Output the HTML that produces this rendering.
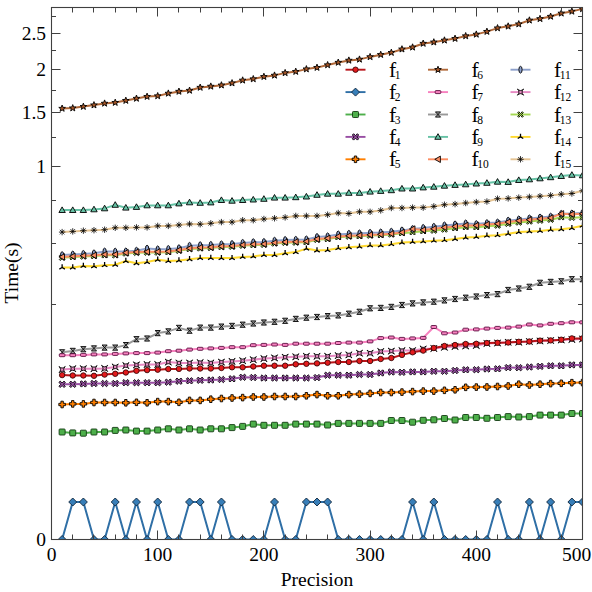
<!DOCTYPE html><html><head><meta charset="utf-8"><style>html,body{margin:0;padding:0;background:#fff;width:592px;height:592px;overflow:hidden}svg{display:block}svg text{font-family:"Liberation Serif",serif;fill:#000}</style></head><body>
<svg width="592" height="592" viewBox="0 0 592 592" font-family="Liberation Serif">
<rect width="592" height="592" fill="#fff"/>
<defs><clipPath id="pc"><rect x="51.5" y="7.5" width="531.0" height="532.0"/></clipPath></defs>
<g clip-path="url(#pc)">
<polyline points="62.12,232.10 72.74,231.40 83.36,230.70 93.98,230.20 104.60,229.70 115.22,227.80 125.84,227.80 136.46,227.40 147.08,227.40 157.70,225.90 168.32,225.90 178.94,225.00 189.56,224.00 200.18,224.20 210.80,223.30 221.42,222.10 232.04,222.10 242.66,220.20 253.28,220.20 263.90,219.00 274.52,218.30 285.14,217.40 295.76,215.90 306.38,215.90 317.00,215.90 327.62,214.70 338.24,213.00 348.86,213.50 359.48,211.80 370.10,211.80 380.72,210.40 391.34,208.00 401.96,208.00 412.58,207.60 423.20,207.60 433.82,206.40 444.44,204.70 455.06,204.10 465.68,203.00 476.30,202.10 486.92,201.50 497.54,198.70 508.16,198.40 518.78,197.60 529.40,196.90 540.02,196.20 550.64,195.40 561.26,194.20 571.88,193.50 582.50,190.80" fill="none" stroke="#e5c494" stroke-width="2.0" stroke-linejoin="round"/>
<path d="M58.92 232.10L65.32 232.10M59.86 229.84L64.38 234.36M62.12 228.90L62.12 235.30M64.38 229.84L59.86 234.36" fill="none" stroke="#000" stroke-width="0.8"/>
<path d="M69.54 231.40L75.94 231.40M70.48 229.14L75.00 233.66M72.74 228.20L72.74 234.60M75.00 229.14L70.48 233.66" fill="none" stroke="#000" stroke-width="0.8"/>
<path d="M80.16 230.70L86.56 230.70M81.10 228.44L85.62 232.96M83.36 227.50L83.36 233.90M85.62 228.44L81.10 232.96" fill="none" stroke="#000" stroke-width="0.8"/>
<path d="M90.78 230.20L97.18 230.20M91.72 227.94L96.24 232.46M93.98 227.00L93.98 233.40M96.24 227.94L91.72 232.46" fill="none" stroke="#000" stroke-width="0.8"/>
<path d="M101.40 229.70L107.80 229.70M102.34 227.44L106.86 231.96M104.60 226.50L104.60 232.90M106.86 227.44L102.34 231.96" fill="none" stroke="#000" stroke-width="0.8"/>
<path d="M112.02 227.80L118.42 227.80M112.96 225.54L117.48 230.06M115.22 224.60L115.22 231.00M117.48 225.54L112.96 230.06" fill="none" stroke="#000" stroke-width="0.8"/>
<path d="M122.64 227.80L129.04 227.80M123.58 225.54L128.10 230.06M125.84 224.60L125.84 231.00M128.10 225.54L123.58 230.06" fill="none" stroke="#000" stroke-width="0.8"/>
<path d="M133.26 227.40L139.66 227.40M134.20 225.14L138.72 229.66M136.46 224.20L136.46 230.60M138.72 225.14L134.20 229.66" fill="none" stroke="#000" stroke-width="0.8"/>
<path d="M143.88 227.40L150.28 227.40M144.82 225.14L149.34 229.66M147.08 224.20L147.08 230.60M149.34 225.14L144.82 229.66" fill="none" stroke="#000" stroke-width="0.8"/>
<path d="M154.50 225.90L160.90 225.90M155.44 223.64L159.96 228.16M157.70 222.70L157.70 229.10M159.96 223.64L155.44 228.16" fill="none" stroke="#000" stroke-width="0.8"/>
<path d="M165.12 225.90L171.52 225.90M166.06 223.64L170.58 228.16M168.32 222.70L168.32 229.10M170.58 223.64L166.06 228.16" fill="none" stroke="#000" stroke-width="0.8"/>
<path d="M175.74 225.00L182.14 225.00M176.68 222.74L181.20 227.26M178.94 221.80L178.94 228.20M181.20 222.74L176.68 227.26" fill="none" stroke="#000" stroke-width="0.8"/>
<path d="M186.36 224.00L192.76 224.00M187.30 221.74L191.82 226.26M189.56 220.80L189.56 227.20M191.82 221.74L187.30 226.26" fill="none" stroke="#000" stroke-width="0.8"/>
<path d="M196.98 224.20L203.38 224.20M197.92 221.94L202.44 226.46M200.18 221.00L200.18 227.40M202.44 221.94L197.92 226.46" fill="none" stroke="#000" stroke-width="0.8"/>
<path d="M207.60 223.30L214.00 223.30M208.54 221.04L213.06 225.56M210.80 220.10L210.80 226.50M213.06 221.04L208.54 225.56" fill="none" stroke="#000" stroke-width="0.8"/>
<path d="M218.22 222.10L224.62 222.10M219.16 219.84L223.68 224.36M221.42 218.90L221.42 225.30M223.68 219.84L219.16 224.36" fill="none" stroke="#000" stroke-width="0.8"/>
<path d="M228.84 222.10L235.24 222.10M229.78 219.84L234.30 224.36M232.04 218.90L232.04 225.30M234.30 219.84L229.78 224.36" fill="none" stroke="#000" stroke-width="0.8"/>
<path d="M239.46 220.20L245.86 220.20M240.40 217.94L244.92 222.46M242.66 217.00L242.66 223.40M244.92 217.94L240.40 222.46" fill="none" stroke="#000" stroke-width="0.8"/>
<path d="M250.08 220.20L256.48 220.20M251.02 217.94L255.54 222.46M253.28 217.00L253.28 223.40M255.54 217.94L251.02 222.46" fill="none" stroke="#000" stroke-width="0.8"/>
<path d="M260.70 219.00L267.10 219.00M261.64 216.74L266.16 221.26M263.90 215.80L263.90 222.20M266.16 216.74L261.64 221.26" fill="none" stroke="#000" stroke-width="0.8"/>
<path d="M271.32 218.30L277.72 218.30M272.26 216.04L276.78 220.56M274.52 215.10L274.52 221.50M276.78 216.04L272.26 220.56" fill="none" stroke="#000" stroke-width="0.8"/>
<path d="M281.94 217.40L288.34 217.40M282.88 215.14L287.40 219.66M285.14 214.20L285.14 220.60M287.40 215.14L282.88 219.66" fill="none" stroke="#000" stroke-width="0.8"/>
<path d="M292.56 215.90L298.96 215.90M293.50 213.64L298.02 218.16M295.76 212.70L295.76 219.10M298.02 213.64L293.50 218.16" fill="none" stroke="#000" stroke-width="0.8"/>
<path d="M303.18 215.90L309.58 215.90M304.12 213.64L308.64 218.16M306.38 212.70L306.38 219.10M308.64 213.64L304.12 218.16" fill="none" stroke="#000" stroke-width="0.8"/>
<path d="M313.80 215.90L320.20 215.90M314.74 213.64L319.26 218.16M317.00 212.70L317.00 219.10M319.26 213.64L314.74 218.16" fill="none" stroke="#000" stroke-width="0.8"/>
<path d="M324.42 214.70L330.82 214.70M325.36 212.44L329.88 216.96M327.62 211.50L327.62 217.90M329.88 212.44L325.36 216.96" fill="none" stroke="#000" stroke-width="0.8"/>
<path d="M335.04 213.00L341.44 213.00M335.98 210.74L340.50 215.26M338.24 209.80L338.24 216.20M340.50 210.74L335.98 215.26" fill="none" stroke="#000" stroke-width="0.8"/>
<path d="M345.66 213.50L352.06 213.50M346.60 211.24L351.12 215.76M348.86 210.30L348.86 216.70M351.12 211.24L346.60 215.76" fill="none" stroke="#000" stroke-width="0.8"/>
<path d="M356.28 211.80L362.68 211.80M357.22 209.54L361.74 214.06M359.48 208.60L359.48 215.00M361.74 209.54L357.22 214.06" fill="none" stroke="#000" stroke-width="0.8"/>
<path d="M366.90 211.80L373.30 211.80M367.84 209.54L372.36 214.06M370.10 208.60L370.10 215.00M372.36 209.54L367.84 214.06" fill="none" stroke="#000" stroke-width="0.8"/>
<path d="M377.52 210.40L383.92 210.40M378.46 208.14L382.98 212.66M380.72 207.20L380.72 213.60M382.98 208.14L378.46 212.66" fill="none" stroke="#000" stroke-width="0.8"/>
<path d="M388.14 208.00L394.54 208.00M389.08 205.74L393.60 210.26M391.34 204.80L391.34 211.20M393.60 205.74L389.08 210.26" fill="none" stroke="#000" stroke-width="0.8"/>
<path d="M398.76 208.00L405.16 208.00M399.70 205.74L404.22 210.26M401.96 204.80L401.96 211.20M404.22 205.74L399.70 210.26" fill="none" stroke="#000" stroke-width="0.8"/>
<path d="M409.38 207.60L415.78 207.60M410.32 205.34L414.84 209.86M412.58 204.40L412.58 210.80M414.84 205.34L410.32 209.86" fill="none" stroke="#000" stroke-width="0.8"/>
<path d="M420.00 207.60L426.40 207.60M420.94 205.34L425.46 209.86M423.20 204.40L423.20 210.80M425.46 205.34L420.94 209.86" fill="none" stroke="#000" stroke-width="0.8"/>
<path d="M430.62 206.40L437.02 206.40M431.56 204.14L436.08 208.66M433.82 203.20L433.82 209.60M436.08 204.14L431.56 208.66" fill="none" stroke="#000" stroke-width="0.8"/>
<path d="M441.24 204.70L447.64 204.70M442.18 202.44L446.70 206.96M444.44 201.50L444.44 207.90M446.70 202.44L442.18 206.96" fill="none" stroke="#000" stroke-width="0.8"/>
<path d="M451.86 204.10L458.26 204.10M452.80 201.84L457.32 206.36M455.06 200.90L455.06 207.30M457.32 201.84L452.80 206.36" fill="none" stroke="#000" stroke-width="0.8"/>
<path d="M462.48 203.00L468.88 203.00M463.42 200.74L467.94 205.26M465.68 199.80L465.68 206.20M467.94 200.74L463.42 205.26" fill="none" stroke="#000" stroke-width="0.8"/>
<path d="M473.10 202.10L479.50 202.10M474.04 199.84L478.56 204.36M476.30 198.90L476.30 205.30M478.56 199.84L474.04 204.36" fill="none" stroke="#000" stroke-width="0.8"/>
<path d="M483.72 201.50L490.12 201.50M484.66 199.24L489.18 203.76M486.92 198.30L486.92 204.70M489.18 199.24L484.66 203.76" fill="none" stroke="#000" stroke-width="0.8"/>
<path d="M494.34 198.70L500.74 198.70M495.28 196.44L499.80 200.96M497.54 195.50L497.54 201.90M499.80 196.44L495.28 200.96" fill="none" stroke="#000" stroke-width="0.8"/>
<path d="M504.96 198.40L511.36 198.40M505.90 196.14L510.42 200.66M508.16 195.20L508.16 201.60M510.42 196.14L505.90 200.66" fill="none" stroke="#000" stroke-width="0.8"/>
<path d="M515.58 197.60L521.98 197.60M516.52 195.34L521.04 199.86M518.78 194.40L518.78 200.80M521.04 195.34L516.52 199.86" fill="none" stroke="#000" stroke-width="0.8"/>
<path d="M526.20 196.90L532.60 196.90M527.14 194.64L531.66 199.16M529.40 193.70L529.40 200.10M531.66 194.64L527.14 199.16" fill="none" stroke="#000" stroke-width="0.8"/>
<path d="M536.82 196.20L543.22 196.20M537.76 193.94L542.28 198.46M540.02 193.00L540.02 199.40M542.28 193.94L537.76 198.46" fill="none" stroke="#000" stroke-width="0.8"/>
<path d="M547.44 195.40L553.84 195.40M548.38 193.14L552.90 197.66M550.64 192.20L550.64 198.60M552.90 193.14L548.38 197.66" fill="none" stroke="#000" stroke-width="0.8"/>
<path d="M558.06 194.20L564.46 194.20M559.00 191.94L563.52 196.46M561.26 191.00L561.26 197.40M563.52 191.94L559.00 196.46" fill="none" stroke="#000" stroke-width="0.8"/>
<path d="M568.68 193.50L575.08 193.50M569.62 191.24L574.14 195.76M571.88 190.30L571.88 196.70M574.14 191.24L569.62 195.76" fill="none" stroke="#000" stroke-width="0.8"/>
<path d="M579.30 190.80L585.70 190.80M580.24 188.54L584.76 193.06M582.50 187.60L582.50 194.00M584.76 188.54L580.24 193.06" fill="none" stroke="#000" stroke-width="0.8"/>
<polyline points="62.12,267.50 72.74,267.50 83.36,265.90 93.98,266.30 104.60,265.20 115.22,264.80 125.84,261.00 136.46,263.30 147.08,262.10 157.70,259.80 168.32,261.00 178.94,260.50 189.56,259.30 200.18,258.00 210.80,258.00 221.42,258.10 232.04,258.10 242.66,256.90 253.28,256.40 263.90,255.00 274.52,255.00 285.14,253.30 295.76,252.10 306.38,248.60 317.00,250.50 327.62,250.10 338.24,248.20 348.86,247.30 359.48,246.60 370.10,245.40 380.72,245.40 391.34,244.20 401.96,242.60 412.58,241.90 423.20,241.40 433.82,240.70 444.44,240.20 455.06,239.00 465.68,237.60 476.30,236.90 486.92,235.70 497.54,235.20 508.16,233.80 518.78,232.10 529.40,231.40 540.02,230.90 550.64,229.80 561.26,229.30 571.88,228.10 582.50,225.70" fill="none" stroke="#ffd92f" stroke-width="2.0" stroke-linejoin="round"/>
<path d="M62.12 267.50L62.12 264.30M62.12 267.50L64.90 269.10M62.12 267.50L59.34 269.10" fill="none" stroke="#000" stroke-width="1.3"/>
<path d="M72.74 267.50L72.74 264.30M72.74 267.50L75.52 269.10M72.74 267.50L69.96 269.10" fill="none" stroke="#000" stroke-width="1.3"/>
<path d="M83.36 265.90L83.36 262.70M83.36 265.90L86.14 267.50M83.36 265.90L80.58 267.50" fill="none" stroke="#000" stroke-width="1.3"/>
<path d="M93.98 266.30L93.98 263.10M93.98 266.30L96.76 267.90M93.98 266.30L91.20 267.90" fill="none" stroke="#000" stroke-width="1.3"/>
<path d="M104.60 265.20L104.60 262.00M104.60 265.20L107.38 266.80M104.60 265.20L101.82 266.80" fill="none" stroke="#000" stroke-width="1.3"/>
<path d="M115.22 264.80L115.22 261.60M115.22 264.80L118.00 266.40M115.22 264.80L112.44 266.40" fill="none" stroke="#000" stroke-width="1.3"/>
<path d="M125.84 261.00L125.84 257.80M125.84 261.00L128.62 262.60M125.84 261.00L123.06 262.60" fill="none" stroke="#000" stroke-width="1.3"/>
<path d="M136.46 263.30L136.46 260.10M136.46 263.30L139.24 264.90M136.46 263.30L133.68 264.90" fill="none" stroke="#000" stroke-width="1.3"/>
<path d="M147.08 262.10L147.08 258.90M147.08 262.10L149.86 263.70M147.08 262.10L144.30 263.70" fill="none" stroke="#000" stroke-width="1.3"/>
<path d="M157.70 259.80L157.70 256.60M157.70 259.80L160.48 261.40M157.70 259.80L154.92 261.40" fill="none" stroke="#000" stroke-width="1.3"/>
<path d="M168.32 261.00L168.32 257.80M168.32 261.00L171.10 262.60M168.32 261.00L165.54 262.60" fill="none" stroke="#000" stroke-width="1.3"/>
<path d="M178.94 260.50L178.94 257.30M178.94 260.50L181.72 262.10M178.94 260.50L176.16 262.10" fill="none" stroke="#000" stroke-width="1.3"/>
<path d="M189.56 259.30L189.56 256.10M189.56 259.30L192.34 260.90M189.56 259.30L186.78 260.90" fill="none" stroke="#000" stroke-width="1.3"/>
<path d="M200.18 258.00L200.18 254.80M200.18 258.00L202.96 259.60M200.18 258.00L197.40 259.60" fill="none" stroke="#000" stroke-width="1.3"/>
<path d="M210.80 258.00L210.80 254.80M210.80 258.00L213.58 259.60M210.80 258.00L208.02 259.60" fill="none" stroke="#000" stroke-width="1.3"/>
<path d="M221.42 258.10L221.42 254.90M221.42 258.10L224.20 259.70M221.42 258.10L218.64 259.70" fill="none" stroke="#000" stroke-width="1.3"/>
<path d="M232.04 258.10L232.04 254.90M232.04 258.10L234.82 259.70M232.04 258.10L229.26 259.70" fill="none" stroke="#000" stroke-width="1.3"/>
<path d="M242.66 256.90L242.66 253.70M242.66 256.90L245.44 258.50M242.66 256.90L239.88 258.50" fill="none" stroke="#000" stroke-width="1.3"/>
<path d="M253.28 256.40L253.28 253.20M253.28 256.40L256.06 258.00M253.28 256.40L250.50 258.00" fill="none" stroke="#000" stroke-width="1.3"/>
<path d="M263.90 255.00L263.90 251.80M263.90 255.00L266.68 256.60M263.90 255.00L261.12 256.60" fill="none" stroke="#000" stroke-width="1.3"/>
<path d="M274.52 255.00L274.52 251.80M274.52 255.00L277.30 256.60M274.52 255.00L271.74 256.60" fill="none" stroke="#000" stroke-width="1.3"/>
<path d="M285.14 253.30L285.14 250.10M285.14 253.30L287.92 254.90M285.14 253.30L282.36 254.90" fill="none" stroke="#000" stroke-width="1.3"/>
<path d="M295.76 252.10L295.76 248.90M295.76 252.10L298.54 253.70M295.76 252.10L292.98 253.70" fill="none" stroke="#000" stroke-width="1.3"/>
<path d="M306.38 248.60L306.38 245.40M306.38 248.60L309.16 250.20M306.38 248.60L303.60 250.20" fill="none" stroke="#000" stroke-width="1.3"/>
<path d="M317.00 250.50L317.00 247.30M317.00 250.50L319.78 252.10M317.00 250.50L314.22 252.10" fill="none" stroke="#000" stroke-width="1.3"/>
<path d="M327.62 250.10L327.62 246.90M327.62 250.10L330.40 251.70M327.62 250.10L324.84 251.70" fill="none" stroke="#000" stroke-width="1.3"/>
<path d="M338.24 248.20L338.24 245.00M338.24 248.20L341.02 249.80M338.24 248.20L335.46 249.80" fill="none" stroke="#000" stroke-width="1.3"/>
<path d="M348.86 247.30L348.86 244.10M348.86 247.30L351.64 248.90M348.86 247.30L346.08 248.90" fill="none" stroke="#000" stroke-width="1.3"/>
<path d="M359.48 246.60L359.48 243.40M359.48 246.60L362.26 248.20M359.48 246.60L356.70 248.20" fill="none" stroke="#000" stroke-width="1.3"/>
<path d="M370.10 245.40L370.10 242.20M370.10 245.40L372.88 247.00M370.10 245.40L367.32 247.00" fill="none" stroke="#000" stroke-width="1.3"/>
<path d="M380.72 245.40L380.72 242.20M380.72 245.40L383.50 247.00M380.72 245.40L377.94 247.00" fill="none" stroke="#000" stroke-width="1.3"/>
<path d="M391.34 244.20L391.34 241.00M391.34 244.20L394.12 245.80M391.34 244.20L388.56 245.80" fill="none" stroke="#000" stroke-width="1.3"/>
<path d="M401.96 242.60L401.96 239.40M401.96 242.60L404.74 244.20M401.96 242.60L399.18 244.20" fill="none" stroke="#000" stroke-width="1.3"/>
<path d="M412.58 241.90L412.58 238.70M412.58 241.90L415.36 243.50M412.58 241.90L409.80 243.50" fill="none" stroke="#000" stroke-width="1.3"/>
<path d="M423.20 241.40L423.20 238.20M423.20 241.40L425.98 243.00M423.20 241.40L420.42 243.00" fill="none" stroke="#000" stroke-width="1.3"/>
<path d="M433.82 240.70L433.82 237.50M433.82 240.70L436.60 242.30M433.82 240.70L431.04 242.30" fill="none" stroke="#000" stroke-width="1.3"/>
<path d="M444.44 240.20L444.44 237.00M444.44 240.20L447.22 241.80M444.44 240.20L441.66 241.80" fill="none" stroke="#000" stroke-width="1.3"/>
<path d="M455.06 239.00L455.06 235.80M455.06 239.00L457.84 240.60M455.06 239.00L452.28 240.60" fill="none" stroke="#000" stroke-width="1.3"/>
<path d="M465.68 237.60L465.68 234.40M465.68 237.60L468.46 239.20M465.68 237.60L462.90 239.20" fill="none" stroke="#000" stroke-width="1.3"/>
<path d="M476.30 236.90L476.30 233.70M476.30 236.90L479.08 238.50M476.30 236.90L473.52 238.50" fill="none" stroke="#000" stroke-width="1.3"/>
<path d="M486.92 235.70L486.92 232.50M486.92 235.70L489.70 237.30M486.92 235.70L484.14 237.30" fill="none" stroke="#000" stroke-width="1.3"/>
<path d="M497.54 235.20L497.54 232.00M497.54 235.20L500.32 236.80M497.54 235.20L494.76 236.80" fill="none" stroke="#000" stroke-width="1.3"/>
<path d="M508.16 233.80L508.16 230.60M508.16 233.80L510.94 235.40M508.16 233.80L505.38 235.40" fill="none" stroke="#000" stroke-width="1.3"/>
<path d="M518.78 232.10L518.78 228.90M518.78 232.10L521.56 233.70M518.78 232.10L516.00 233.70" fill="none" stroke="#000" stroke-width="1.3"/>
<path d="M529.40 231.40L529.40 228.20M529.40 231.40L532.18 233.00M529.40 231.40L526.62 233.00" fill="none" stroke="#000" stroke-width="1.3"/>
<path d="M540.02 230.90L540.02 227.70M540.02 230.90L542.80 232.50M540.02 230.90L537.24 232.50" fill="none" stroke="#000" stroke-width="1.3"/>
<path d="M550.64 229.80L550.64 226.60M550.64 229.80L553.42 231.40M550.64 229.80L547.86 231.40" fill="none" stroke="#000" stroke-width="1.3"/>
<path d="M561.26 229.30L561.26 226.10M561.26 229.30L564.04 230.90M561.26 229.30L558.48 230.90" fill="none" stroke="#000" stroke-width="1.3"/>
<path d="M571.88 228.10L571.88 224.90M571.88 228.10L574.66 229.70M571.88 228.10L569.10 229.70" fill="none" stroke="#000" stroke-width="1.3"/>
<path d="M582.50 225.70L582.50 222.50M582.50 225.70L585.28 227.30M582.50 225.70L579.72 227.30" fill="none" stroke="#000" stroke-width="1.3"/>
<polyline points="62.12,257.70 72.74,257.10 83.36,256.50 93.98,256.10 104.60,255.30 115.22,255.30 125.84,253.50 136.46,252.80 147.08,252.60 157.70,252.60 168.32,252.20 178.94,250.80 189.56,249.10 200.18,248.40 210.80,248.00 221.42,247.10 232.04,246.70 242.66,245.70 253.28,245.10 263.90,244.80 274.52,243.50 285.14,242.80 295.76,242.60 306.38,242.20 317.00,239.80 327.62,239.10 338.24,237.20 348.86,236.60 359.48,236.20 370.10,235.60 380.72,235.20 391.34,234.50 401.96,233.20 412.58,232.20 423.20,231.20 433.82,230.60 444.44,229.50 455.06,228.20 465.68,227.20 476.30,227.20 486.92,226.20 497.54,225.60 508.16,223.80 518.78,222.50 529.40,221.50 540.02,220.60 550.64,219.70 561.26,217.30 571.88,217.70 582.50,217.30" fill="none" stroke="#a6d854" stroke-width="2.0" stroke-linejoin="round"/>
<path d="M62.12 256.70L63.92 254.90L64.92 255.90L63.12 257.70L64.92 259.50L63.92 260.50L62.12 258.70L60.32 260.50L59.32 259.50L61.12 257.70L59.32 255.90L60.32 254.90Z" fill="#a6d854" stroke="#000" stroke-width="0.9"/>
<path d="M72.74 256.10L74.54 254.30L75.54 255.30L73.74 257.10L75.54 258.90L74.54 259.90L72.74 258.10L70.94 259.90L69.94 258.90L71.74 257.10L69.94 255.30L70.94 254.30Z" fill="#a6d854" stroke="#000" stroke-width="0.9"/>
<path d="M83.36 255.50L85.16 253.70L86.16 254.70L84.36 256.50L86.16 258.30L85.16 259.30L83.36 257.50L81.56 259.30L80.56 258.30L82.36 256.50L80.56 254.70L81.56 253.70Z" fill="#a6d854" stroke="#000" stroke-width="0.9"/>
<path d="M93.98 255.10L95.78 253.30L96.78 254.30L94.98 256.10L96.78 257.90L95.78 258.90L93.98 257.10L92.18 258.90L91.18 257.90L92.98 256.10L91.18 254.30L92.18 253.30Z" fill="#a6d854" stroke="#000" stroke-width="0.9"/>
<path d="M104.60 254.30L106.40 252.50L107.40 253.50L105.60 255.30L107.40 257.10L106.40 258.10L104.60 256.30L102.80 258.10L101.80 257.10L103.60 255.30L101.80 253.50L102.80 252.50Z" fill="#a6d854" stroke="#000" stroke-width="0.9"/>
<path d="M115.22 254.30L117.02 252.50L118.02 253.50L116.22 255.30L118.02 257.10L117.02 258.10L115.22 256.30L113.42 258.10L112.42 257.10L114.22 255.30L112.42 253.50L113.42 252.50Z" fill="#a6d854" stroke="#000" stroke-width="0.9"/>
<path d="M125.84 252.50L127.64 250.70L128.64 251.70L126.84 253.50L128.64 255.30L127.64 256.30L125.84 254.50L124.04 256.30L123.04 255.30L124.84 253.50L123.04 251.70L124.04 250.70Z" fill="#a6d854" stroke="#000" stroke-width="0.9"/>
<path d="M136.46 251.80L138.26 250.00L139.26 251.00L137.46 252.80L139.26 254.60L138.26 255.60L136.46 253.80L134.66 255.60L133.66 254.60L135.46 252.80L133.66 251.00L134.66 250.00Z" fill="#a6d854" stroke="#000" stroke-width="0.9"/>
<path d="M147.08 251.60L148.88 249.80L149.88 250.80L148.08 252.60L149.88 254.40L148.88 255.40L147.08 253.60L145.28 255.40L144.28 254.40L146.08 252.60L144.28 250.80L145.28 249.80Z" fill="#a6d854" stroke="#000" stroke-width="0.9"/>
<path d="M157.70 251.60L159.50 249.80L160.50 250.80L158.70 252.60L160.50 254.40L159.50 255.40L157.70 253.60L155.90 255.40L154.90 254.40L156.70 252.60L154.90 250.80L155.90 249.80Z" fill="#a6d854" stroke="#000" stroke-width="0.9"/>
<path d="M168.32 251.20L170.12 249.40L171.12 250.40L169.32 252.20L171.12 254.00L170.12 255.00L168.32 253.20L166.52 255.00L165.52 254.00L167.32 252.20L165.52 250.40L166.52 249.40Z" fill="#a6d854" stroke="#000" stroke-width="0.9"/>
<path d="M178.94 249.80L180.74 248.00L181.74 249.00L179.94 250.80L181.74 252.60L180.74 253.60L178.94 251.80L177.14 253.60L176.14 252.60L177.94 250.80L176.14 249.00L177.14 248.00Z" fill="#a6d854" stroke="#000" stroke-width="0.9"/>
<path d="M189.56 248.10L191.36 246.30L192.36 247.30L190.56 249.10L192.36 250.90L191.36 251.90L189.56 250.10L187.76 251.90L186.76 250.90L188.56 249.10L186.76 247.30L187.76 246.30Z" fill="#a6d854" stroke="#000" stroke-width="0.9"/>
<path d="M200.18 247.40L201.98 245.60L202.98 246.60L201.18 248.40L202.98 250.20L201.98 251.20L200.18 249.40L198.38 251.20L197.38 250.20L199.18 248.40L197.38 246.60L198.38 245.60Z" fill="#a6d854" stroke="#000" stroke-width="0.9"/>
<path d="M210.80 247.00L212.60 245.20L213.60 246.20L211.80 248.00L213.60 249.80L212.60 250.80L210.80 249.00L209.00 250.80L208.00 249.80L209.80 248.00L208.00 246.20L209.00 245.20Z" fill="#a6d854" stroke="#000" stroke-width="0.9"/>
<path d="M221.42 246.10L223.22 244.30L224.22 245.30L222.42 247.10L224.22 248.90L223.22 249.90L221.42 248.10L219.62 249.90L218.62 248.90L220.42 247.10L218.62 245.30L219.62 244.30Z" fill="#a6d854" stroke="#000" stroke-width="0.9"/>
<path d="M232.04 245.70L233.84 243.90L234.84 244.90L233.04 246.70L234.84 248.50L233.84 249.50L232.04 247.70L230.24 249.50L229.24 248.50L231.04 246.70L229.24 244.90L230.24 243.90Z" fill="#a6d854" stroke="#000" stroke-width="0.9"/>
<path d="M242.66 244.70L244.46 242.90L245.46 243.90L243.66 245.70L245.46 247.50L244.46 248.50L242.66 246.70L240.86 248.50L239.86 247.50L241.66 245.70L239.86 243.90L240.86 242.90Z" fill="#a6d854" stroke="#000" stroke-width="0.9"/>
<path d="M253.28 244.10L255.08 242.30L256.08 243.30L254.28 245.10L256.08 246.90L255.08 247.90L253.28 246.10L251.48 247.90L250.48 246.90L252.28 245.10L250.48 243.30L251.48 242.30Z" fill="#a6d854" stroke="#000" stroke-width="0.9"/>
<path d="M263.90 243.80L265.70 242.00L266.70 243.00L264.90 244.80L266.70 246.60L265.70 247.60L263.90 245.80L262.10 247.60L261.10 246.60L262.90 244.80L261.10 243.00L262.10 242.00Z" fill="#a6d854" stroke="#000" stroke-width="0.9"/>
<path d="M274.52 242.50L276.32 240.70L277.32 241.70L275.52 243.50L277.32 245.30L276.32 246.30L274.52 244.50L272.72 246.30L271.72 245.30L273.52 243.50L271.72 241.70L272.72 240.70Z" fill="#a6d854" stroke="#000" stroke-width="0.9"/>
<path d="M285.14 241.80L286.94 240.00L287.94 241.00L286.14 242.80L287.94 244.60L286.94 245.60L285.14 243.80L283.34 245.60L282.34 244.60L284.14 242.80L282.34 241.00L283.34 240.00Z" fill="#a6d854" stroke="#000" stroke-width="0.9"/>
<path d="M295.76 241.60L297.56 239.80L298.56 240.80L296.76 242.60L298.56 244.40L297.56 245.40L295.76 243.60L293.96 245.40L292.96 244.40L294.76 242.60L292.96 240.80L293.96 239.80Z" fill="#a6d854" stroke="#000" stroke-width="0.9"/>
<path d="M306.38 241.20L308.18 239.40L309.18 240.40L307.38 242.20L309.18 244.00L308.18 245.00L306.38 243.20L304.58 245.00L303.58 244.00L305.38 242.20L303.58 240.40L304.58 239.40Z" fill="#a6d854" stroke="#000" stroke-width="0.9"/>
<path d="M317.00 238.80L318.80 237.00L319.80 238.00L318.00 239.80L319.80 241.60L318.80 242.60L317.00 240.80L315.20 242.60L314.20 241.60L316.00 239.80L314.20 238.00L315.20 237.00Z" fill="#a6d854" stroke="#000" stroke-width="0.9"/>
<path d="M327.62 238.10L329.42 236.30L330.42 237.30L328.62 239.10L330.42 240.90L329.42 241.90L327.62 240.10L325.82 241.90L324.82 240.90L326.62 239.10L324.82 237.30L325.82 236.30Z" fill="#a6d854" stroke="#000" stroke-width="0.9"/>
<path d="M338.24 236.20L340.04 234.40L341.04 235.40L339.24 237.20L341.04 239.00L340.04 240.00L338.24 238.20L336.44 240.00L335.44 239.00L337.24 237.20L335.44 235.40L336.44 234.40Z" fill="#a6d854" stroke="#000" stroke-width="0.9"/>
<path d="M348.86 235.60L350.66 233.80L351.66 234.80L349.86 236.60L351.66 238.40L350.66 239.40L348.86 237.60L347.06 239.40L346.06 238.40L347.86 236.60L346.06 234.80L347.06 233.80Z" fill="#a6d854" stroke="#000" stroke-width="0.9"/>
<path d="M359.48 235.20L361.28 233.40L362.28 234.40L360.48 236.20L362.28 238.00L361.28 239.00L359.48 237.20L357.68 239.00L356.68 238.00L358.48 236.20L356.68 234.40L357.68 233.40Z" fill="#a6d854" stroke="#000" stroke-width="0.9"/>
<path d="M370.10 234.60L371.90 232.80L372.90 233.80L371.10 235.60L372.90 237.40L371.90 238.40L370.10 236.60L368.30 238.40L367.30 237.40L369.10 235.60L367.30 233.80L368.30 232.80Z" fill="#a6d854" stroke="#000" stroke-width="0.9"/>
<path d="M380.72 234.20L382.52 232.40L383.52 233.40L381.72 235.20L383.52 237.00L382.52 238.00L380.72 236.20L378.92 238.00L377.92 237.00L379.72 235.20L377.92 233.40L378.92 232.40Z" fill="#a6d854" stroke="#000" stroke-width="0.9"/>
<path d="M391.34 233.50L393.14 231.70L394.14 232.70L392.34 234.50L394.14 236.30L393.14 237.30L391.34 235.50L389.54 237.30L388.54 236.30L390.34 234.50L388.54 232.70L389.54 231.70Z" fill="#a6d854" stroke="#000" stroke-width="0.9"/>
<path d="M401.96 232.20L403.76 230.40L404.76 231.40L402.96 233.20L404.76 235.00L403.76 236.00L401.96 234.20L400.16 236.00L399.16 235.00L400.96 233.20L399.16 231.40L400.16 230.40Z" fill="#a6d854" stroke="#000" stroke-width="0.9"/>
<path d="M412.58 231.20L414.38 229.40L415.38 230.40L413.58 232.20L415.38 234.00L414.38 235.00L412.58 233.20L410.78 235.00L409.78 234.00L411.58 232.20L409.78 230.40L410.78 229.40Z" fill="#a6d854" stroke="#000" stroke-width="0.9"/>
<path d="M423.20 230.20L425.00 228.40L426.00 229.40L424.20 231.20L426.00 233.00L425.00 234.00L423.20 232.20L421.40 234.00L420.40 233.00L422.20 231.20L420.40 229.40L421.40 228.40Z" fill="#a6d854" stroke="#000" stroke-width="0.9"/>
<path d="M433.82 229.60L435.62 227.80L436.62 228.80L434.82 230.60L436.62 232.40L435.62 233.40L433.82 231.60L432.02 233.40L431.02 232.40L432.82 230.60L431.02 228.80L432.02 227.80Z" fill="#a6d854" stroke="#000" stroke-width="0.9"/>
<path d="M444.44 228.50L446.24 226.70L447.24 227.70L445.44 229.50L447.24 231.30L446.24 232.30L444.44 230.50L442.64 232.30L441.64 231.30L443.44 229.50L441.64 227.70L442.64 226.70Z" fill="#a6d854" stroke="#000" stroke-width="0.9"/>
<path d="M455.06 227.20L456.86 225.40L457.86 226.40L456.06 228.20L457.86 230.00L456.86 231.00L455.06 229.20L453.26 231.00L452.26 230.00L454.06 228.20L452.26 226.40L453.26 225.40Z" fill="#a6d854" stroke="#000" stroke-width="0.9"/>
<path d="M465.68 226.20L467.48 224.40L468.48 225.40L466.68 227.20L468.48 229.00L467.48 230.00L465.68 228.20L463.88 230.00L462.88 229.00L464.68 227.20L462.88 225.40L463.88 224.40Z" fill="#a6d854" stroke="#000" stroke-width="0.9"/>
<path d="M476.30 226.20L478.10 224.40L479.10 225.40L477.30 227.20L479.10 229.00L478.10 230.00L476.30 228.20L474.50 230.00L473.50 229.00L475.30 227.20L473.50 225.40L474.50 224.40Z" fill="#a6d854" stroke="#000" stroke-width="0.9"/>
<path d="M486.92 225.20L488.72 223.40L489.72 224.40L487.92 226.20L489.72 228.00L488.72 229.00L486.92 227.20L485.12 229.00L484.12 228.00L485.92 226.20L484.12 224.40L485.12 223.40Z" fill="#a6d854" stroke="#000" stroke-width="0.9"/>
<path d="M497.54 224.60L499.34 222.80L500.34 223.80L498.54 225.60L500.34 227.40L499.34 228.40L497.54 226.60L495.74 228.40L494.74 227.40L496.54 225.60L494.74 223.80L495.74 222.80Z" fill="#a6d854" stroke="#000" stroke-width="0.9"/>
<path d="M508.16 222.80L509.96 221.00L510.96 222.00L509.16 223.80L510.96 225.60L509.96 226.60L508.16 224.80L506.36 226.60L505.36 225.60L507.16 223.80L505.36 222.00L506.36 221.00Z" fill="#a6d854" stroke="#000" stroke-width="0.9"/>
<path d="M518.78 221.50L520.58 219.70L521.58 220.70L519.78 222.50L521.58 224.30L520.58 225.30L518.78 223.50L516.98 225.30L515.98 224.30L517.78 222.50L515.98 220.70L516.98 219.70Z" fill="#a6d854" stroke="#000" stroke-width="0.9"/>
<path d="M529.40 220.50L531.20 218.70L532.20 219.70L530.40 221.50L532.20 223.30L531.20 224.30L529.40 222.50L527.60 224.30L526.60 223.30L528.40 221.50L526.60 219.70L527.60 218.70Z" fill="#a6d854" stroke="#000" stroke-width="0.9"/>
<path d="M540.02 219.60L541.82 217.80L542.82 218.80L541.02 220.60L542.82 222.40L541.82 223.40L540.02 221.60L538.22 223.40L537.22 222.40L539.02 220.60L537.22 218.80L538.22 217.80Z" fill="#a6d854" stroke="#000" stroke-width="0.9"/>
<path d="M550.64 218.70L552.44 216.90L553.44 217.90L551.64 219.70L553.44 221.50L552.44 222.50L550.64 220.70L548.84 222.50L547.84 221.50L549.64 219.70L547.84 217.90L548.84 216.90Z" fill="#a6d854" stroke="#000" stroke-width="0.9"/>
<path d="M561.26 216.30L563.06 214.50L564.06 215.50L562.26 217.30L564.06 219.10L563.06 220.10L561.26 218.30L559.46 220.10L558.46 219.10L560.26 217.30L558.46 215.50L559.46 214.50Z" fill="#a6d854" stroke="#000" stroke-width="0.9"/>
<path d="M571.88 216.70L573.68 214.90L574.68 215.90L572.88 217.70L574.68 219.50L573.68 220.50L571.88 218.70L570.08 220.50L569.08 219.50L570.88 217.70L569.08 215.90L570.08 214.90Z" fill="#a6d854" stroke="#000" stroke-width="0.9"/>
<path d="M582.50 216.30L584.30 214.50L585.30 215.50L583.50 217.30L585.30 219.10L584.30 220.10L582.50 218.30L580.70 220.10L579.70 219.10L581.50 217.30L579.70 215.50L580.70 214.50Z" fill="#a6d854" stroke="#000" stroke-width="0.9"/>
<polyline points="62.12,369.60 72.74,368.70 83.36,368.70 93.98,368.70 104.60,368.40 115.22,367.00 125.84,365.60 136.46,364.90 147.08,364.50 157.70,364.50 168.32,362.10 178.94,363.00 189.56,363.00 200.18,362.60 210.80,363.00 221.42,362.10 232.04,361.40 242.66,360.70 253.28,359.70 263.90,358.60 274.52,357.90 285.14,357.20 295.76,356.80 306.38,356.30 317.00,356.30 327.62,356.30 338.24,355.60 348.86,354.90 359.48,353.20 370.10,353.20 380.72,351.50 391.34,351.10 401.96,350.60 412.58,350.60 423.20,349.00 433.82,348.50 444.44,347.30 455.06,346.50 465.68,346.00 476.30,345.50 486.92,343.50 497.54,343.00 508.16,342.20 518.78,342.20 529.40,341.50 540.02,341.00 550.64,340.50 561.26,340.00 571.88,339.50 582.50,339.00" fill="none" stroke="#e78ac3" stroke-width="2.0" stroke-linejoin="round"/>
<path d="M59.02 366.50Q62.12 369.60 65.22 366.50Q62.12 369.60 65.22 372.70Q62.12 369.60 59.02 372.70Q62.12 369.60 59.02 366.50Z" fill="#e78ac3" stroke="#000" stroke-width="0.9"/>
<path d="M69.64 365.60Q72.74 368.70 75.84 365.60Q72.74 368.70 75.84 371.80Q72.74 368.70 69.64 371.80Q72.74 368.70 69.64 365.60Z" fill="#e78ac3" stroke="#000" stroke-width="0.9"/>
<path d="M80.26 365.60Q83.36 368.70 86.46 365.60Q83.36 368.70 86.46 371.80Q83.36 368.70 80.26 371.80Q83.36 368.70 80.26 365.60Z" fill="#e78ac3" stroke="#000" stroke-width="0.9"/>
<path d="M90.88 365.60Q93.98 368.70 97.08 365.60Q93.98 368.70 97.08 371.80Q93.98 368.70 90.88 371.80Q93.98 368.70 90.88 365.60Z" fill="#e78ac3" stroke="#000" stroke-width="0.9"/>
<path d="M101.50 365.30Q104.60 368.40 107.70 365.30Q104.60 368.40 107.70 371.50Q104.60 368.40 101.50 371.50Q104.60 368.40 101.50 365.30Z" fill="#e78ac3" stroke="#000" stroke-width="0.9"/>
<path d="M112.12 363.90Q115.22 367.00 118.32 363.90Q115.22 367.00 118.32 370.10Q115.22 367.00 112.12 370.10Q115.22 367.00 112.12 363.90Z" fill="#e78ac3" stroke="#000" stroke-width="0.9"/>
<path d="M122.74 362.50Q125.84 365.60 128.94 362.50Q125.84 365.60 128.94 368.70Q125.84 365.60 122.74 368.70Q125.84 365.60 122.74 362.50Z" fill="#e78ac3" stroke="#000" stroke-width="0.9"/>
<path d="M133.36 361.80Q136.46 364.90 139.56 361.80Q136.46 364.90 139.56 368.00Q136.46 364.90 133.36 368.00Q136.46 364.90 133.36 361.80Z" fill="#e78ac3" stroke="#000" stroke-width="0.9"/>
<path d="M143.98 361.40Q147.08 364.50 150.18 361.40Q147.08 364.50 150.18 367.60Q147.08 364.50 143.98 367.60Q147.08 364.50 143.98 361.40Z" fill="#e78ac3" stroke="#000" stroke-width="0.9"/>
<path d="M154.60 361.40Q157.70 364.50 160.80 361.40Q157.70 364.50 160.80 367.60Q157.70 364.50 154.60 367.60Q157.70 364.50 154.60 361.40Z" fill="#e78ac3" stroke="#000" stroke-width="0.9"/>
<path d="M165.22 359.00Q168.32 362.10 171.42 359.00Q168.32 362.10 171.42 365.20Q168.32 362.10 165.22 365.20Q168.32 362.10 165.22 359.00Z" fill="#e78ac3" stroke="#000" stroke-width="0.9"/>
<path d="M175.84 359.90Q178.94 363.00 182.04 359.90Q178.94 363.00 182.04 366.10Q178.94 363.00 175.84 366.10Q178.94 363.00 175.84 359.90Z" fill="#e78ac3" stroke="#000" stroke-width="0.9"/>
<path d="M186.46 359.90Q189.56 363.00 192.66 359.90Q189.56 363.00 192.66 366.10Q189.56 363.00 186.46 366.10Q189.56 363.00 186.46 359.90Z" fill="#e78ac3" stroke="#000" stroke-width="0.9"/>
<path d="M197.08 359.50Q200.18 362.60 203.28 359.50Q200.18 362.60 203.28 365.70Q200.18 362.60 197.08 365.70Q200.18 362.60 197.08 359.50Z" fill="#e78ac3" stroke="#000" stroke-width="0.9"/>
<path d="M207.70 359.90Q210.80 363.00 213.90 359.90Q210.80 363.00 213.90 366.10Q210.80 363.00 207.70 366.10Q210.80 363.00 207.70 359.90Z" fill="#e78ac3" stroke="#000" stroke-width="0.9"/>
<path d="M218.32 359.00Q221.42 362.10 224.52 359.00Q221.42 362.10 224.52 365.20Q221.42 362.10 218.32 365.20Q221.42 362.10 218.32 359.00Z" fill="#e78ac3" stroke="#000" stroke-width="0.9"/>
<path d="M228.94 358.30Q232.04 361.40 235.14 358.30Q232.04 361.40 235.14 364.50Q232.04 361.40 228.94 364.50Q232.04 361.40 228.94 358.30Z" fill="#e78ac3" stroke="#000" stroke-width="0.9"/>
<path d="M239.56 357.60Q242.66 360.70 245.76 357.60Q242.66 360.70 245.76 363.80Q242.66 360.70 239.56 363.80Q242.66 360.70 239.56 357.60Z" fill="#e78ac3" stroke="#000" stroke-width="0.9"/>
<path d="M250.18 356.60Q253.28 359.70 256.38 356.60Q253.28 359.70 256.38 362.80Q253.28 359.70 250.18 362.80Q253.28 359.70 250.18 356.60Z" fill="#e78ac3" stroke="#000" stroke-width="0.9"/>
<path d="M260.80 355.50Q263.90 358.60 267.00 355.50Q263.90 358.60 267.00 361.70Q263.90 358.60 260.80 361.70Q263.90 358.60 260.80 355.50Z" fill="#e78ac3" stroke="#000" stroke-width="0.9"/>
<path d="M271.42 354.80Q274.52 357.90 277.62 354.80Q274.52 357.90 277.62 361.00Q274.52 357.90 271.42 361.00Q274.52 357.90 271.42 354.80Z" fill="#e78ac3" stroke="#000" stroke-width="0.9"/>
<path d="M282.04 354.10Q285.14 357.20 288.24 354.10Q285.14 357.20 288.24 360.30Q285.14 357.20 282.04 360.30Q285.14 357.20 282.04 354.10Z" fill="#e78ac3" stroke="#000" stroke-width="0.9"/>
<path d="M292.66 353.70Q295.76 356.80 298.86 353.70Q295.76 356.80 298.86 359.90Q295.76 356.80 292.66 359.90Q295.76 356.80 292.66 353.70Z" fill="#e78ac3" stroke="#000" stroke-width="0.9"/>
<path d="M303.28 353.20Q306.38 356.30 309.48 353.20Q306.38 356.30 309.48 359.40Q306.38 356.30 303.28 359.40Q306.38 356.30 303.28 353.20Z" fill="#e78ac3" stroke="#000" stroke-width="0.9"/>
<path d="M313.90 353.20Q317.00 356.30 320.10 353.20Q317.00 356.30 320.10 359.40Q317.00 356.30 313.90 359.40Q317.00 356.30 313.90 353.20Z" fill="#e78ac3" stroke="#000" stroke-width="0.9"/>
<path d="M324.52 353.20Q327.62 356.30 330.72 353.20Q327.62 356.30 330.72 359.40Q327.62 356.30 324.52 359.40Q327.62 356.30 324.52 353.20Z" fill="#e78ac3" stroke="#000" stroke-width="0.9"/>
<path d="M335.14 352.50Q338.24 355.60 341.34 352.50Q338.24 355.60 341.34 358.70Q338.24 355.60 335.14 358.70Q338.24 355.60 335.14 352.50Z" fill="#e78ac3" stroke="#000" stroke-width="0.9"/>
<path d="M345.76 351.80Q348.86 354.90 351.96 351.80Q348.86 354.90 351.96 358.00Q348.86 354.90 345.76 358.00Q348.86 354.90 345.76 351.80Z" fill="#e78ac3" stroke="#000" stroke-width="0.9"/>
<path d="M356.38 350.10Q359.48 353.20 362.58 350.10Q359.48 353.20 362.58 356.30Q359.48 353.20 356.38 356.30Q359.48 353.20 356.38 350.10Z" fill="#e78ac3" stroke="#000" stroke-width="0.9"/>
<path d="M367.00 350.10Q370.10 353.20 373.20 350.10Q370.10 353.20 373.20 356.30Q370.10 353.20 367.00 356.30Q370.10 353.20 367.00 350.10Z" fill="#e78ac3" stroke="#000" stroke-width="0.9"/>
<path d="M377.62 348.40Q380.72 351.50 383.82 348.40Q380.72 351.50 383.82 354.60Q380.72 351.50 377.62 354.60Q380.72 351.50 377.62 348.40Z" fill="#e78ac3" stroke="#000" stroke-width="0.9"/>
<path d="M388.24 348.00Q391.34 351.10 394.44 348.00Q391.34 351.10 394.44 354.20Q391.34 351.10 388.24 354.20Q391.34 351.10 388.24 348.00Z" fill="#e78ac3" stroke="#000" stroke-width="0.9"/>
<path d="M398.86 347.50Q401.96 350.60 405.06 347.50Q401.96 350.60 405.06 353.70Q401.96 350.60 398.86 353.70Q401.96 350.60 398.86 347.50Z" fill="#e78ac3" stroke="#000" stroke-width="0.9"/>
<path d="M409.48 347.50Q412.58 350.60 415.68 347.50Q412.58 350.60 415.68 353.70Q412.58 350.60 409.48 353.70Q412.58 350.60 409.48 347.50Z" fill="#e78ac3" stroke="#000" stroke-width="0.9"/>
<path d="M420.10 345.90Q423.20 349.00 426.30 345.90Q423.20 349.00 426.30 352.10Q423.20 349.00 420.10 352.10Q423.20 349.00 420.10 345.90Z" fill="#e78ac3" stroke="#000" stroke-width="0.9"/>
<path d="M430.72 345.40Q433.82 348.50 436.92 345.40Q433.82 348.50 436.92 351.60Q433.82 348.50 430.72 351.60Q433.82 348.50 430.72 345.40Z" fill="#e78ac3" stroke="#000" stroke-width="0.9"/>
<path d="M441.34 344.20Q444.44 347.30 447.54 344.20Q444.44 347.30 447.54 350.40Q444.44 347.30 441.34 350.40Q444.44 347.30 441.34 344.20Z" fill="#e78ac3" stroke="#000" stroke-width="0.9"/>
<path d="M451.96 343.40Q455.06 346.50 458.16 343.40Q455.06 346.50 458.16 349.60Q455.06 346.50 451.96 349.60Q455.06 346.50 451.96 343.40Z" fill="#e78ac3" stroke="#000" stroke-width="0.9"/>
<path d="M462.58 342.90Q465.68 346.00 468.78 342.90Q465.68 346.00 468.78 349.10Q465.68 346.00 462.58 349.10Q465.68 346.00 462.58 342.90Z" fill="#e78ac3" stroke="#000" stroke-width="0.9"/>
<path d="M473.20 342.40Q476.30 345.50 479.40 342.40Q476.30 345.50 479.40 348.60Q476.30 345.50 473.20 348.60Q476.30 345.50 473.20 342.40Z" fill="#e78ac3" stroke="#000" stroke-width="0.9"/>
<path d="M483.82 340.40Q486.92 343.50 490.02 340.40Q486.92 343.50 490.02 346.60Q486.92 343.50 483.82 346.60Q486.92 343.50 483.82 340.40Z" fill="#e78ac3" stroke="#000" stroke-width="0.9"/>
<path d="M494.44 339.90Q497.54 343.00 500.64 339.90Q497.54 343.00 500.64 346.10Q497.54 343.00 494.44 346.10Q497.54 343.00 494.44 339.90Z" fill="#e78ac3" stroke="#000" stroke-width="0.9"/>
<path d="M505.06 339.10Q508.16 342.20 511.26 339.10Q508.16 342.20 511.26 345.30Q508.16 342.20 505.06 345.30Q508.16 342.20 505.06 339.10Z" fill="#e78ac3" stroke="#000" stroke-width="0.9"/>
<path d="M515.68 339.10Q518.78 342.20 521.88 339.10Q518.78 342.20 521.88 345.30Q518.78 342.20 515.68 345.30Q518.78 342.20 515.68 339.10Z" fill="#e78ac3" stroke="#000" stroke-width="0.9"/>
<path d="M526.30 338.40Q529.40 341.50 532.50 338.40Q529.40 341.50 532.50 344.60Q529.40 341.50 526.30 344.60Q529.40 341.50 526.30 338.40Z" fill="#e78ac3" stroke="#000" stroke-width="0.9"/>
<path d="M536.92 337.90Q540.02 341.00 543.12 337.90Q540.02 341.00 543.12 344.10Q540.02 341.00 536.92 344.10Q540.02 341.00 536.92 337.90Z" fill="#e78ac3" stroke="#000" stroke-width="0.9"/>
<path d="M547.54 337.40Q550.64 340.50 553.74 337.40Q550.64 340.50 553.74 343.60Q550.64 340.50 547.54 343.60Q550.64 340.50 547.54 337.40Z" fill="#e78ac3" stroke="#000" stroke-width="0.9"/>
<path d="M558.16 336.90Q561.26 340.00 564.36 336.90Q561.26 340.00 564.36 343.10Q561.26 340.00 558.16 343.10Q561.26 340.00 558.16 336.90Z" fill="#e78ac3" stroke="#000" stroke-width="0.9"/>
<path d="M568.78 336.40Q571.88 339.50 574.98 336.40Q571.88 339.50 574.98 342.60Q571.88 339.50 568.78 342.60Q571.88 339.50 568.78 336.40Z" fill="#e78ac3" stroke="#000" stroke-width="0.9"/>
<path d="M579.40 335.90Q582.50 339.00 585.60 335.90Q582.50 339.00 585.60 342.10Q582.50 339.00 579.40 342.10Q582.50 339.00 579.40 335.90Z" fill="#e78ac3" stroke="#000" stroke-width="0.9"/>
<polyline points="62.12,255.10 72.74,254.50 83.36,253.90 93.98,253.30 104.60,251.50 115.22,251.60 125.84,251.40 136.46,250.70 147.08,248.60 157.70,249.30 168.32,249.00 178.94,248.20 189.56,245.80 200.18,245.20 210.80,244.90 221.42,244.30 232.04,244.00 242.66,242.90 253.28,242.20 263.90,242.00 274.52,240.70 285.14,240.00 295.76,239.80 306.38,239.40 317.00,237.00 327.62,236.30 338.24,234.40 348.86,233.80 359.48,233.40 370.10,232.80 380.72,232.40 391.34,231.70 401.96,230.40 412.58,229.00 423.20,227.90 433.82,226.80 444.44,225.40 455.06,224.40 465.68,223.40 476.30,224.10 486.92,223.10 497.54,222.50 508.16,220.70 518.78,219.40 529.40,218.40 540.02,217.50 550.64,216.60 561.26,213.80 571.88,213.50 582.50,213.00" fill="none" stroke="#8da0cb" stroke-width="2.0" stroke-linejoin="round"/>
<ellipse cx="62.12" cy="255.10" rx="1.60" ry="3.40" fill="#8da0cb" stroke="#000" stroke-width="0.9"/>
<ellipse cx="72.74" cy="254.50" rx="1.60" ry="3.40" fill="#8da0cb" stroke="#000" stroke-width="0.9"/>
<ellipse cx="83.36" cy="253.90" rx="1.60" ry="3.40" fill="#8da0cb" stroke="#000" stroke-width="0.9"/>
<ellipse cx="93.98" cy="253.30" rx="1.60" ry="3.40" fill="#8da0cb" stroke="#000" stroke-width="0.9"/>
<ellipse cx="104.60" cy="251.50" rx="1.60" ry="3.40" fill="#8da0cb" stroke="#000" stroke-width="0.9"/>
<ellipse cx="115.22" cy="251.60" rx="1.60" ry="3.40" fill="#8da0cb" stroke="#000" stroke-width="0.9"/>
<ellipse cx="125.84" cy="251.40" rx="1.60" ry="3.40" fill="#8da0cb" stroke="#000" stroke-width="0.9"/>
<ellipse cx="136.46" cy="250.70" rx="1.60" ry="3.40" fill="#8da0cb" stroke="#000" stroke-width="0.9"/>
<ellipse cx="147.08" cy="248.60" rx="1.60" ry="3.40" fill="#8da0cb" stroke="#000" stroke-width="0.9"/>
<ellipse cx="157.70" cy="249.30" rx="1.60" ry="3.40" fill="#8da0cb" stroke="#000" stroke-width="0.9"/>
<ellipse cx="168.32" cy="249.00" rx="1.60" ry="3.40" fill="#8da0cb" stroke="#000" stroke-width="0.9"/>
<ellipse cx="178.94" cy="248.20" rx="1.60" ry="3.40" fill="#8da0cb" stroke="#000" stroke-width="0.9"/>
<ellipse cx="189.56" cy="245.80" rx="1.60" ry="3.40" fill="#8da0cb" stroke="#000" stroke-width="0.9"/>
<ellipse cx="200.18" cy="245.20" rx="1.60" ry="3.40" fill="#8da0cb" stroke="#000" stroke-width="0.9"/>
<ellipse cx="210.80" cy="244.90" rx="1.60" ry="3.40" fill="#8da0cb" stroke="#000" stroke-width="0.9"/>
<ellipse cx="221.42" cy="244.30" rx="1.60" ry="3.40" fill="#8da0cb" stroke="#000" stroke-width="0.9"/>
<ellipse cx="232.04" cy="244.00" rx="1.60" ry="3.40" fill="#8da0cb" stroke="#000" stroke-width="0.9"/>
<ellipse cx="242.66" cy="242.90" rx="1.60" ry="3.40" fill="#8da0cb" stroke="#000" stroke-width="0.9"/>
<ellipse cx="253.28" cy="242.20" rx="1.60" ry="3.40" fill="#8da0cb" stroke="#000" stroke-width="0.9"/>
<ellipse cx="263.90" cy="242.00" rx="1.60" ry="3.40" fill="#8da0cb" stroke="#000" stroke-width="0.9"/>
<ellipse cx="274.52" cy="240.70" rx="1.60" ry="3.40" fill="#8da0cb" stroke="#000" stroke-width="0.9"/>
<ellipse cx="285.14" cy="240.00" rx="1.60" ry="3.40" fill="#8da0cb" stroke="#000" stroke-width="0.9"/>
<ellipse cx="295.76" cy="239.80" rx="1.60" ry="3.40" fill="#8da0cb" stroke="#000" stroke-width="0.9"/>
<ellipse cx="306.38" cy="239.40" rx="1.60" ry="3.40" fill="#8da0cb" stroke="#000" stroke-width="0.9"/>
<ellipse cx="317.00" cy="237.00" rx="1.60" ry="3.40" fill="#8da0cb" stroke="#000" stroke-width="0.9"/>
<ellipse cx="327.62" cy="236.30" rx="1.60" ry="3.40" fill="#8da0cb" stroke="#000" stroke-width="0.9"/>
<ellipse cx="338.24" cy="234.40" rx="1.60" ry="3.40" fill="#8da0cb" stroke="#000" stroke-width="0.9"/>
<ellipse cx="348.86" cy="233.80" rx="1.60" ry="3.40" fill="#8da0cb" stroke="#000" stroke-width="0.9"/>
<ellipse cx="359.48" cy="233.40" rx="1.60" ry="3.40" fill="#8da0cb" stroke="#000" stroke-width="0.9"/>
<ellipse cx="370.10" cy="232.80" rx="1.60" ry="3.40" fill="#8da0cb" stroke="#000" stroke-width="0.9"/>
<ellipse cx="380.72" cy="232.40" rx="1.60" ry="3.40" fill="#8da0cb" stroke="#000" stroke-width="0.9"/>
<ellipse cx="391.34" cy="231.70" rx="1.60" ry="3.40" fill="#8da0cb" stroke="#000" stroke-width="0.9"/>
<ellipse cx="401.96" cy="230.40" rx="1.60" ry="3.40" fill="#8da0cb" stroke="#000" stroke-width="0.9"/>
<ellipse cx="412.58" cy="229.00" rx="1.60" ry="3.40" fill="#8da0cb" stroke="#000" stroke-width="0.9"/>
<ellipse cx="423.20" cy="227.90" rx="1.60" ry="3.40" fill="#8da0cb" stroke="#000" stroke-width="0.9"/>
<ellipse cx="433.82" cy="226.80" rx="1.60" ry="3.40" fill="#8da0cb" stroke="#000" stroke-width="0.9"/>
<ellipse cx="444.44" cy="225.40" rx="1.60" ry="3.40" fill="#8da0cb" stroke="#000" stroke-width="0.9"/>
<ellipse cx="455.06" cy="224.40" rx="1.60" ry="3.40" fill="#8da0cb" stroke="#000" stroke-width="0.9"/>
<ellipse cx="465.68" cy="223.40" rx="1.60" ry="3.40" fill="#8da0cb" stroke="#000" stroke-width="0.9"/>
<ellipse cx="476.30" cy="224.10" rx="1.60" ry="3.40" fill="#8da0cb" stroke="#000" stroke-width="0.9"/>
<ellipse cx="486.92" cy="223.10" rx="1.60" ry="3.40" fill="#8da0cb" stroke="#000" stroke-width="0.9"/>
<ellipse cx="497.54" cy="222.50" rx="1.60" ry="3.40" fill="#8da0cb" stroke="#000" stroke-width="0.9"/>
<ellipse cx="508.16" cy="220.70" rx="1.60" ry="3.40" fill="#8da0cb" stroke="#000" stroke-width="0.9"/>
<ellipse cx="518.78" cy="219.40" rx="1.60" ry="3.40" fill="#8da0cb" stroke="#000" stroke-width="0.9"/>
<ellipse cx="529.40" cy="218.40" rx="1.60" ry="3.40" fill="#8da0cb" stroke="#000" stroke-width="0.9"/>
<ellipse cx="540.02" cy="217.50" rx="1.60" ry="3.40" fill="#8da0cb" stroke="#000" stroke-width="0.9"/>
<ellipse cx="550.64" cy="216.60" rx="1.60" ry="3.40" fill="#8da0cb" stroke="#000" stroke-width="0.9"/>
<ellipse cx="561.26" cy="213.80" rx="1.60" ry="3.40" fill="#8da0cb" stroke="#000" stroke-width="0.9"/>
<ellipse cx="571.88" cy="213.50" rx="1.60" ry="3.40" fill="#8da0cb" stroke="#000" stroke-width="0.9"/>
<ellipse cx="582.50" cy="213.00" rx="1.60" ry="3.40" fill="#8da0cb" stroke="#000" stroke-width="0.9"/>
<polyline points="62.12,256.90 72.74,256.30 83.36,255.70 93.98,255.30 104.60,254.50 115.22,254.50 125.84,252.70 136.46,252.00 147.08,251.80 157.70,251.80 168.32,251.40 178.94,250.00 189.56,248.30 200.18,247.60 210.80,247.20 221.42,246.30 232.04,245.90 242.66,244.90 253.28,244.30 263.90,244.00 274.52,242.70 285.14,242.00 295.76,241.80 306.38,241.40 317.00,239.00 327.62,238.30 338.24,236.40 348.86,235.80 359.48,235.40 370.10,234.80 380.72,234.40 391.34,233.70 401.96,232.40 412.58,229.00 423.20,229.90 433.82,228.80 444.44,227.40 455.06,226.40 465.68,225.40 476.30,225.40 486.92,224.40 497.54,223.80 508.16,222.00 518.78,220.70 529.40,219.70 540.02,218.80 550.64,217.90 561.26,213.80 571.88,214.20 582.50,213.80" fill="none" stroke="#fc8d62" stroke-width="2.0" stroke-linejoin="round"/>
<path d="M58.92 256.90L64.52 253.70L64.52 260.10Z" fill="#fc8d62" stroke="#000" stroke-width="0.9"/>
<path d="M69.54 256.30L75.14 253.10L75.14 259.50Z" fill="#fc8d62" stroke="#000" stroke-width="0.9"/>
<path d="M80.16 255.70L85.76 252.50L85.76 258.90Z" fill="#fc8d62" stroke="#000" stroke-width="0.9"/>
<path d="M90.78 255.30L96.38 252.10L96.38 258.50Z" fill="#fc8d62" stroke="#000" stroke-width="0.9"/>
<path d="M101.40 254.50L107.00 251.30L107.00 257.70Z" fill="#fc8d62" stroke="#000" stroke-width="0.9"/>
<path d="M112.02 254.50L117.62 251.30L117.62 257.70Z" fill="#fc8d62" stroke="#000" stroke-width="0.9"/>
<path d="M122.64 252.70L128.24 249.50L128.24 255.90Z" fill="#fc8d62" stroke="#000" stroke-width="0.9"/>
<path d="M133.26 252.00L138.86 248.80L138.86 255.20Z" fill="#fc8d62" stroke="#000" stroke-width="0.9"/>
<path d="M143.88 251.80L149.48 248.60L149.48 255.00Z" fill="#fc8d62" stroke="#000" stroke-width="0.9"/>
<path d="M154.50 251.80L160.10 248.60L160.10 255.00Z" fill="#fc8d62" stroke="#000" stroke-width="0.9"/>
<path d="M165.12 251.40L170.72 248.20L170.72 254.60Z" fill="#fc8d62" stroke="#000" stroke-width="0.9"/>
<path d="M175.74 250.00L181.34 246.80L181.34 253.20Z" fill="#fc8d62" stroke="#000" stroke-width="0.9"/>
<path d="M186.36 248.30L191.96 245.10L191.96 251.50Z" fill="#fc8d62" stroke="#000" stroke-width="0.9"/>
<path d="M196.98 247.60L202.58 244.40L202.58 250.80Z" fill="#fc8d62" stroke="#000" stroke-width="0.9"/>
<path d="M207.60 247.20L213.20 244.00L213.20 250.40Z" fill="#fc8d62" stroke="#000" stroke-width="0.9"/>
<path d="M218.22 246.30L223.82 243.10L223.82 249.50Z" fill="#fc8d62" stroke="#000" stroke-width="0.9"/>
<path d="M228.84 245.90L234.44 242.70L234.44 249.10Z" fill="#fc8d62" stroke="#000" stroke-width="0.9"/>
<path d="M239.46 244.90L245.06 241.70L245.06 248.10Z" fill="#fc8d62" stroke="#000" stroke-width="0.9"/>
<path d="M250.08 244.30L255.68 241.10L255.68 247.50Z" fill="#fc8d62" stroke="#000" stroke-width="0.9"/>
<path d="M260.70 244.00L266.30 240.80L266.30 247.20Z" fill="#fc8d62" stroke="#000" stroke-width="0.9"/>
<path d="M271.32 242.70L276.92 239.50L276.92 245.90Z" fill="#fc8d62" stroke="#000" stroke-width="0.9"/>
<path d="M281.94 242.00L287.54 238.80L287.54 245.20Z" fill="#fc8d62" stroke="#000" stroke-width="0.9"/>
<path d="M292.56 241.80L298.16 238.60L298.16 245.00Z" fill="#fc8d62" stroke="#000" stroke-width="0.9"/>
<path d="M303.18 241.40L308.78 238.20L308.78 244.60Z" fill="#fc8d62" stroke="#000" stroke-width="0.9"/>
<path d="M313.80 239.00L319.40 235.80L319.40 242.20Z" fill="#fc8d62" stroke="#000" stroke-width="0.9"/>
<path d="M324.42 238.30L330.02 235.10L330.02 241.50Z" fill="#fc8d62" stroke="#000" stroke-width="0.9"/>
<path d="M335.04 236.40L340.64 233.20L340.64 239.60Z" fill="#fc8d62" stroke="#000" stroke-width="0.9"/>
<path d="M345.66 235.80L351.26 232.60L351.26 239.00Z" fill="#fc8d62" stroke="#000" stroke-width="0.9"/>
<path d="M356.28 235.40L361.88 232.20L361.88 238.60Z" fill="#fc8d62" stroke="#000" stroke-width="0.9"/>
<path d="M366.90 234.80L372.50 231.60L372.50 238.00Z" fill="#fc8d62" stroke="#000" stroke-width="0.9"/>
<path d="M377.52 234.40L383.12 231.20L383.12 237.60Z" fill="#fc8d62" stroke="#000" stroke-width="0.9"/>
<path d="M388.14 233.70L393.74 230.50L393.74 236.90Z" fill="#fc8d62" stroke="#000" stroke-width="0.9"/>
<path d="M398.76 232.40L404.36 229.20L404.36 235.60Z" fill="#fc8d62" stroke="#000" stroke-width="0.9"/>
<path d="M409.38 229.00L414.98 225.80L414.98 232.20Z" fill="#fc8d62" stroke="#000" stroke-width="0.9"/>
<path d="M420.00 229.90L425.60 226.70L425.60 233.10Z" fill="#fc8d62" stroke="#000" stroke-width="0.9"/>
<path d="M430.62 228.80L436.22 225.60L436.22 232.00Z" fill="#fc8d62" stroke="#000" stroke-width="0.9"/>
<path d="M441.24 227.40L446.84 224.20L446.84 230.60Z" fill="#fc8d62" stroke="#000" stroke-width="0.9"/>
<path d="M451.86 226.40L457.46 223.20L457.46 229.60Z" fill="#fc8d62" stroke="#000" stroke-width="0.9"/>
<path d="M462.48 225.40L468.08 222.20L468.08 228.60Z" fill="#fc8d62" stroke="#000" stroke-width="0.9"/>
<path d="M473.10 225.40L478.70 222.20L478.70 228.60Z" fill="#fc8d62" stroke="#000" stroke-width="0.9"/>
<path d="M483.72 224.40L489.32 221.20L489.32 227.60Z" fill="#fc8d62" stroke="#000" stroke-width="0.9"/>
<path d="M494.34 223.80L499.94 220.60L499.94 227.00Z" fill="#fc8d62" stroke="#000" stroke-width="0.9"/>
<path d="M504.96 222.00L510.56 218.80L510.56 225.20Z" fill="#fc8d62" stroke="#000" stroke-width="0.9"/>
<path d="M515.58 220.70L521.18 217.50L521.18 223.90Z" fill="#fc8d62" stroke="#000" stroke-width="0.9"/>
<path d="M526.20 219.70L531.80 216.50L531.80 222.90Z" fill="#fc8d62" stroke="#000" stroke-width="0.9"/>
<path d="M536.82 218.80L542.42 215.60L542.42 222.00Z" fill="#fc8d62" stroke="#000" stroke-width="0.9"/>
<path d="M547.44 217.90L553.04 214.70L553.04 221.10Z" fill="#fc8d62" stroke="#000" stroke-width="0.9"/>
<path d="M558.06 213.80L563.66 210.60L563.66 217.00Z" fill="#fc8d62" stroke="#000" stroke-width="0.9"/>
<path d="M568.68 214.20L574.28 211.00L574.28 217.40Z" fill="#fc8d62" stroke="#000" stroke-width="0.9"/>
<path d="M579.30 213.80L584.90 210.60L584.90 217.00Z" fill="#fc8d62" stroke="#000" stroke-width="0.9"/>
<polyline points="62.12,210.10 72.74,210.10 83.36,210.10 93.98,209.40 104.60,208.40 115.22,204.90 125.84,207.70 136.46,207.00 147.08,205.40 157.70,205.40 168.32,205.40 178.94,203.50 189.56,202.40 200.18,202.90 210.80,202.50 221.42,200.10 232.04,200.80 242.66,200.10 253.28,199.60 263.90,198.90 274.52,197.70 285.14,197.70 295.76,197.30 306.38,196.60 317.00,194.90 327.62,193.80 338.24,193.80 348.86,192.90 359.48,192.90 370.10,191.70 380.72,191.00 391.34,190.30 401.96,188.60 412.58,188.60 423.20,187.50 433.82,186.80 444.44,185.80 455.06,185.00 465.68,184.40 476.30,183.60 486.92,182.90 497.54,181.80 508.16,182.00 518.78,180.10 529.40,179.40 540.02,178.40 550.64,177.30 561.26,176.10 571.88,174.90 582.50,175.40" fill="none" stroke="#66c2a5" stroke-width="2.0" stroke-linejoin="round"/>
<path d="M62.12 206.90L65.32 212.50L58.92 212.50Z" fill="#66c2a5" stroke="#000" stroke-width="0.9"/>
<path d="M72.74 206.90L75.94 212.50L69.54 212.50Z" fill="#66c2a5" stroke="#000" stroke-width="0.9"/>
<path d="M83.36 206.90L86.56 212.50L80.16 212.50Z" fill="#66c2a5" stroke="#000" stroke-width="0.9"/>
<path d="M93.98 206.20L97.18 211.80L90.78 211.80Z" fill="#66c2a5" stroke="#000" stroke-width="0.9"/>
<path d="M104.60 205.20L107.80 210.80L101.40 210.80Z" fill="#66c2a5" stroke="#000" stroke-width="0.9"/>
<path d="M115.22 201.70L118.42 207.30L112.02 207.30Z" fill="#66c2a5" stroke="#000" stroke-width="0.9"/>
<path d="M125.84 204.50L129.04 210.10L122.64 210.10Z" fill="#66c2a5" stroke="#000" stroke-width="0.9"/>
<path d="M136.46 203.80L139.66 209.40L133.26 209.40Z" fill="#66c2a5" stroke="#000" stroke-width="0.9"/>
<path d="M147.08 202.20L150.28 207.80L143.88 207.80Z" fill="#66c2a5" stroke="#000" stroke-width="0.9"/>
<path d="M157.70 202.20L160.90 207.80L154.50 207.80Z" fill="#66c2a5" stroke="#000" stroke-width="0.9"/>
<path d="M168.32 202.20L171.52 207.80L165.12 207.80Z" fill="#66c2a5" stroke="#000" stroke-width="0.9"/>
<path d="M178.94 200.30L182.14 205.90L175.74 205.90Z" fill="#66c2a5" stroke="#000" stroke-width="0.9"/>
<path d="M189.56 199.20L192.76 204.80L186.36 204.80Z" fill="#66c2a5" stroke="#000" stroke-width="0.9"/>
<path d="M200.18 199.70L203.38 205.30L196.98 205.30Z" fill="#66c2a5" stroke="#000" stroke-width="0.9"/>
<path d="M210.80 199.30L214.00 204.90L207.60 204.90Z" fill="#66c2a5" stroke="#000" stroke-width="0.9"/>
<path d="M221.42 196.90L224.62 202.50L218.22 202.50Z" fill="#66c2a5" stroke="#000" stroke-width="0.9"/>
<path d="M232.04 197.60L235.24 203.20L228.84 203.20Z" fill="#66c2a5" stroke="#000" stroke-width="0.9"/>
<path d="M242.66 196.90L245.86 202.50L239.46 202.50Z" fill="#66c2a5" stroke="#000" stroke-width="0.9"/>
<path d="M253.28 196.40L256.48 202.00L250.08 202.00Z" fill="#66c2a5" stroke="#000" stroke-width="0.9"/>
<path d="M263.90 195.70L267.10 201.30L260.70 201.30Z" fill="#66c2a5" stroke="#000" stroke-width="0.9"/>
<path d="M274.52 194.50L277.72 200.10L271.32 200.10Z" fill="#66c2a5" stroke="#000" stroke-width="0.9"/>
<path d="M285.14 194.50L288.34 200.10L281.94 200.10Z" fill="#66c2a5" stroke="#000" stroke-width="0.9"/>
<path d="M295.76 194.10L298.96 199.70L292.56 199.70Z" fill="#66c2a5" stroke="#000" stroke-width="0.9"/>
<path d="M306.38 193.40L309.58 199.00L303.18 199.00Z" fill="#66c2a5" stroke="#000" stroke-width="0.9"/>
<path d="M317.00 191.70L320.20 197.30L313.80 197.30Z" fill="#66c2a5" stroke="#000" stroke-width="0.9"/>
<path d="M327.62 190.60L330.82 196.20L324.42 196.20Z" fill="#66c2a5" stroke="#000" stroke-width="0.9"/>
<path d="M338.24 190.60L341.44 196.20L335.04 196.20Z" fill="#66c2a5" stroke="#000" stroke-width="0.9"/>
<path d="M348.86 189.70L352.06 195.30L345.66 195.30Z" fill="#66c2a5" stroke="#000" stroke-width="0.9"/>
<path d="M359.48 189.70L362.68 195.30L356.28 195.30Z" fill="#66c2a5" stroke="#000" stroke-width="0.9"/>
<path d="M370.10 188.50L373.30 194.10L366.90 194.10Z" fill="#66c2a5" stroke="#000" stroke-width="0.9"/>
<path d="M380.72 187.80L383.92 193.40L377.52 193.40Z" fill="#66c2a5" stroke="#000" stroke-width="0.9"/>
<path d="M391.34 187.10L394.54 192.70L388.14 192.70Z" fill="#66c2a5" stroke="#000" stroke-width="0.9"/>
<path d="M401.96 185.40L405.16 191.00L398.76 191.00Z" fill="#66c2a5" stroke="#000" stroke-width="0.9"/>
<path d="M412.58 185.40L415.78 191.00L409.38 191.00Z" fill="#66c2a5" stroke="#000" stroke-width="0.9"/>
<path d="M423.20 184.30L426.40 189.90L420.00 189.90Z" fill="#66c2a5" stroke="#000" stroke-width="0.9"/>
<path d="M433.82 183.60L437.02 189.20L430.62 189.20Z" fill="#66c2a5" stroke="#000" stroke-width="0.9"/>
<path d="M444.44 182.60L447.64 188.20L441.24 188.20Z" fill="#66c2a5" stroke="#000" stroke-width="0.9"/>
<path d="M455.06 181.80L458.26 187.40L451.86 187.40Z" fill="#66c2a5" stroke="#000" stroke-width="0.9"/>
<path d="M465.68 181.20L468.88 186.80L462.48 186.80Z" fill="#66c2a5" stroke="#000" stroke-width="0.9"/>
<path d="M476.30 180.40L479.50 186.00L473.10 186.00Z" fill="#66c2a5" stroke="#000" stroke-width="0.9"/>
<path d="M486.92 179.70L490.12 185.30L483.72 185.30Z" fill="#66c2a5" stroke="#000" stroke-width="0.9"/>
<path d="M497.54 178.60L500.74 184.20L494.34 184.20Z" fill="#66c2a5" stroke="#000" stroke-width="0.9"/>
<path d="M508.16 178.80L511.36 184.40L504.96 184.40Z" fill="#66c2a5" stroke="#000" stroke-width="0.9"/>
<path d="M518.78 176.90L521.98 182.50L515.58 182.50Z" fill="#66c2a5" stroke="#000" stroke-width="0.9"/>
<path d="M529.40 176.20L532.60 181.80L526.20 181.80Z" fill="#66c2a5" stroke="#000" stroke-width="0.9"/>
<path d="M540.02 175.20L543.22 180.80L536.82 180.80Z" fill="#66c2a5" stroke="#000" stroke-width="0.9"/>
<path d="M550.64 174.10L553.84 179.70L547.44 179.70Z" fill="#66c2a5" stroke="#000" stroke-width="0.9"/>
<path d="M561.26 172.90L564.46 178.50L558.06 178.50Z" fill="#66c2a5" stroke="#000" stroke-width="0.9"/>
<path d="M571.88 171.70L575.08 177.30L568.68 177.30Z" fill="#66c2a5" stroke="#000" stroke-width="0.9"/>
<path d="M582.50 172.20L585.70 177.80L579.30 177.80Z" fill="#66c2a5" stroke="#000" stroke-width="0.9"/>
<polyline points="62.12,352.30 72.74,350.90 83.36,349.20 93.98,348.40 104.60,347.60 115.22,347.60 125.84,345.10 136.46,339.20 147.08,338.50 157.70,333.10 168.32,331.40 178.94,327.90 189.56,330.70 200.18,327.60 210.80,327.60 221.42,326.60 232.04,325.90 242.66,324.70 253.28,323.50 263.90,322.50 274.52,321.80 285.14,320.80 295.76,318.90 306.38,317.70 317.00,317.00 327.62,316.10 338.24,315.40 348.86,313.70 359.48,311.80 370.10,308.30 380.72,307.90 391.34,306.90 401.96,305.00 412.58,303.40 423.20,302.40 433.82,301.70 444.44,300.40 455.06,299.00 465.68,297.70 476.30,296.50 486.92,295.10 497.54,294.10 508.16,290.00 518.78,288.50 529.40,286.80 540.02,282.80 550.64,281.90 561.26,281.30 571.88,279.20 582.50,279.20" fill="none" stroke="#999999" stroke-width="2.0" stroke-linejoin="round"/>
<path d="M59.52 349.70L64.72 349.70L59.52 354.90L64.72 354.90Z" fill="#999999" stroke="#000" stroke-width="0.9"/>
<path d="M70.14 348.30L75.34 348.30L70.14 353.50L75.34 353.50Z" fill="#999999" stroke="#000" stroke-width="0.9"/>
<path d="M80.76 346.60L85.96 346.60L80.76 351.80L85.96 351.80Z" fill="#999999" stroke="#000" stroke-width="0.9"/>
<path d="M91.38 345.80L96.58 345.80L91.38 351.00L96.58 351.00Z" fill="#999999" stroke="#000" stroke-width="0.9"/>
<path d="M102.00 345.00L107.20 345.00L102.00 350.20L107.20 350.20Z" fill="#999999" stroke="#000" stroke-width="0.9"/>
<path d="M112.62 345.00L117.82 345.00L112.62 350.20L117.82 350.20Z" fill="#999999" stroke="#000" stroke-width="0.9"/>
<path d="M123.24 342.50L128.44 342.50L123.24 347.70L128.44 347.70Z" fill="#999999" stroke="#000" stroke-width="0.9"/>
<path d="M133.86 336.60L139.06 336.60L133.86 341.80L139.06 341.80Z" fill="#999999" stroke="#000" stroke-width="0.9"/>
<path d="M144.48 335.90L149.68 335.90L144.48 341.10L149.68 341.10Z" fill="#999999" stroke="#000" stroke-width="0.9"/>
<path d="M155.10 330.50L160.30 330.50L155.10 335.70L160.30 335.70Z" fill="#999999" stroke="#000" stroke-width="0.9"/>
<path d="M165.72 328.80L170.92 328.80L165.72 334.00L170.92 334.00Z" fill="#999999" stroke="#000" stroke-width="0.9"/>
<path d="M176.34 325.30L181.54 325.30L176.34 330.50L181.54 330.50Z" fill="#999999" stroke="#000" stroke-width="0.9"/>
<path d="M186.96 328.10L192.16 328.10L186.96 333.30L192.16 333.30Z" fill="#999999" stroke="#000" stroke-width="0.9"/>
<path d="M197.58 325.00L202.78 325.00L197.58 330.20L202.78 330.20Z" fill="#999999" stroke="#000" stroke-width="0.9"/>
<path d="M208.20 325.00L213.40 325.00L208.20 330.20L213.40 330.20Z" fill="#999999" stroke="#000" stroke-width="0.9"/>
<path d="M218.82 324.00L224.02 324.00L218.82 329.20L224.02 329.20Z" fill="#999999" stroke="#000" stroke-width="0.9"/>
<path d="M229.44 323.30L234.64 323.30L229.44 328.50L234.64 328.50Z" fill="#999999" stroke="#000" stroke-width="0.9"/>
<path d="M240.06 322.10L245.26 322.10L240.06 327.30L245.26 327.30Z" fill="#999999" stroke="#000" stroke-width="0.9"/>
<path d="M250.68 320.90L255.88 320.90L250.68 326.10L255.88 326.10Z" fill="#999999" stroke="#000" stroke-width="0.9"/>
<path d="M261.30 319.90L266.50 319.90L261.30 325.10L266.50 325.10Z" fill="#999999" stroke="#000" stroke-width="0.9"/>
<path d="M271.92 319.20L277.12 319.20L271.92 324.40L277.12 324.40Z" fill="#999999" stroke="#000" stroke-width="0.9"/>
<path d="M282.54 318.20L287.74 318.20L282.54 323.40L287.74 323.40Z" fill="#999999" stroke="#000" stroke-width="0.9"/>
<path d="M293.16 316.30L298.36 316.30L293.16 321.50L298.36 321.50Z" fill="#999999" stroke="#000" stroke-width="0.9"/>
<path d="M303.78 315.10L308.98 315.10L303.78 320.30L308.98 320.30Z" fill="#999999" stroke="#000" stroke-width="0.9"/>
<path d="M314.40 314.40L319.60 314.40L314.40 319.60L319.60 319.60Z" fill="#999999" stroke="#000" stroke-width="0.9"/>
<path d="M325.02 313.50L330.22 313.50L325.02 318.70L330.22 318.70Z" fill="#999999" stroke="#000" stroke-width="0.9"/>
<path d="M335.64 312.80L340.84 312.80L335.64 318.00L340.84 318.00Z" fill="#999999" stroke="#000" stroke-width="0.9"/>
<path d="M346.26 311.10L351.46 311.10L346.26 316.30L351.46 316.30Z" fill="#999999" stroke="#000" stroke-width="0.9"/>
<path d="M356.88 309.20L362.08 309.20L356.88 314.40L362.08 314.40Z" fill="#999999" stroke="#000" stroke-width="0.9"/>
<path d="M367.50 305.70L372.70 305.70L367.50 310.90L372.70 310.90Z" fill="#999999" stroke="#000" stroke-width="0.9"/>
<path d="M378.12 305.30L383.32 305.30L378.12 310.50L383.32 310.50Z" fill="#999999" stroke="#000" stroke-width="0.9"/>
<path d="M388.74 304.30L393.94 304.30L388.74 309.50L393.94 309.50Z" fill="#999999" stroke="#000" stroke-width="0.9"/>
<path d="M399.36 302.40L404.56 302.40L399.36 307.60L404.56 307.60Z" fill="#999999" stroke="#000" stroke-width="0.9"/>
<path d="M409.98 300.80L415.18 300.80L409.98 306.00L415.18 306.00Z" fill="#999999" stroke="#000" stroke-width="0.9"/>
<path d="M420.60 299.80L425.80 299.80L420.60 305.00L425.80 305.00Z" fill="#999999" stroke="#000" stroke-width="0.9"/>
<path d="M431.22 299.10L436.42 299.10L431.22 304.30L436.42 304.30Z" fill="#999999" stroke="#000" stroke-width="0.9"/>
<path d="M441.84 297.80L447.04 297.80L441.84 303.00L447.04 303.00Z" fill="#999999" stroke="#000" stroke-width="0.9"/>
<path d="M452.46 296.40L457.66 296.40L452.46 301.60L457.66 301.60Z" fill="#999999" stroke="#000" stroke-width="0.9"/>
<path d="M463.08 295.10L468.28 295.10L463.08 300.30L468.28 300.30Z" fill="#999999" stroke="#000" stroke-width="0.9"/>
<path d="M473.70 293.90L478.90 293.90L473.70 299.10L478.90 299.10Z" fill="#999999" stroke="#000" stroke-width="0.9"/>
<path d="M484.32 292.50L489.52 292.50L484.32 297.70L489.52 297.70Z" fill="#999999" stroke="#000" stroke-width="0.9"/>
<path d="M494.94 291.50L500.14 291.50L494.94 296.70L500.14 296.70Z" fill="#999999" stroke="#000" stroke-width="0.9"/>
<path d="M505.56 287.40L510.76 287.40L505.56 292.60L510.76 292.60Z" fill="#999999" stroke="#000" stroke-width="0.9"/>
<path d="M516.18 285.90L521.38 285.90L516.18 291.10L521.38 291.10Z" fill="#999999" stroke="#000" stroke-width="0.9"/>
<path d="M526.80 284.20L532.00 284.20L526.80 289.40L532.00 289.40Z" fill="#999999" stroke="#000" stroke-width="0.9"/>
<path d="M537.42 280.20L542.62 280.20L537.42 285.40L542.62 285.40Z" fill="#999999" stroke="#000" stroke-width="0.9"/>
<path d="M548.04 279.30L553.24 279.30L548.04 284.50L553.24 284.50Z" fill="#999999" stroke="#000" stroke-width="0.9"/>
<path d="M558.66 278.70L563.86 278.70L558.66 283.90L563.86 283.90Z" fill="#999999" stroke="#000" stroke-width="0.9"/>
<path d="M569.28 276.60L574.48 276.60L569.28 281.80L574.48 281.80Z" fill="#999999" stroke="#000" stroke-width="0.9"/>
<path d="M579.90 276.60L585.10 276.60L579.90 281.80L585.10 281.80Z" fill="#999999" stroke="#000" stroke-width="0.9"/>
<polyline points="62.12,355.20 72.74,355.20 83.36,354.90 93.98,354.40 104.60,354.40 115.22,353.90 125.84,353.40 136.46,353.10 147.08,353.10 157.70,352.60 168.32,351.20 178.94,350.70 189.56,349.60 200.18,348.80 210.80,348.40 221.42,347.90 232.04,347.20 242.66,347.20 253.28,345.20 263.90,344.90 274.52,344.50 285.14,344.90 295.76,343.70 306.38,343.70 317.00,343.70 327.62,343.70 338.24,343.00 348.86,342.60 359.48,342.60 370.10,341.40 380.72,338.10 391.34,337.50 401.96,338.90 412.58,338.40 423.20,337.90 433.82,327.00 444.44,333.30 455.06,332.50 465.68,329.70 476.30,329.40 486.92,328.60 497.54,327.90 508.16,327.60 518.78,326.60 529.40,324.50 540.02,325.40 550.64,323.80 561.26,323.20 571.88,322.30 582.50,322.30" fill="none" stroke="#f781bf" stroke-width="2.0" stroke-linejoin="round"/>
<rect x="59.32" y="353.70" width="5.60" height="3.00" rx="0.8" fill="#f781bf" stroke="#5a1040" stroke-width="0.9"/>
<rect x="69.94" y="353.70" width="5.60" height="3.00" rx="0.8" fill="#f781bf" stroke="#5a1040" stroke-width="0.9"/>
<rect x="80.56" y="353.40" width="5.60" height="3.00" rx="0.8" fill="#f781bf" stroke="#5a1040" stroke-width="0.9"/>
<rect x="91.18" y="352.90" width="5.60" height="3.00" rx="0.8" fill="#f781bf" stroke="#5a1040" stroke-width="0.9"/>
<rect x="101.80" y="352.90" width="5.60" height="3.00" rx="0.8" fill="#f781bf" stroke="#5a1040" stroke-width="0.9"/>
<rect x="112.42" y="352.40" width="5.60" height="3.00" rx="0.8" fill="#f781bf" stroke="#5a1040" stroke-width="0.9"/>
<rect x="123.04" y="351.90" width="5.60" height="3.00" rx="0.8" fill="#f781bf" stroke="#5a1040" stroke-width="0.9"/>
<rect x="133.66" y="351.60" width="5.60" height="3.00" rx="0.8" fill="#f781bf" stroke="#5a1040" stroke-width="0.9"/>
<rect x="144.28" y="351.60" width="5.60" height="3.00" rx="0.8" fill="#f781bf" stroke="#5a1040" stroke-width="0.9"/>
<rect x="154.90" y="351.10" width="5.60" height="3.00" rx="0.8" fill="#f781bf" stroke="#5a1040" stroke-width="0.9"/>
<rect x="165.52" y="349.70" width="5.60" height="3.00" rx="0.8" fill="#f781bf" stroke="#5a1040" stroke-width="0.9"/>
<rect x="176.14" y="349.20" width="5.60" height="3.00" rx="0.8" fill="#f781bf" stroke="#5a1040" stroke-width="0.9"/>
<rect x="186.76" y="348.10" width="5.60" height="3.00" rx="0.8" fill="#f781bf" stroke="#5a1040" stroke-width="0.9"/>
<rect x="197.38" y="347.30" width="5.60" height="3.00" rx="0.8" fill="#f781bf" stroke="#5a1040" stroke-width="0.9"/>
<rect x="208.00" y="346.90" width="5.60" height="3.00" rx="0.8" fill="#f781bf" stroke="#5a1040" stroke-width="0.9"/>
<rect x="218.62" y="346.40" width="5.60" height="3.00" rx="0.8" fill="#f781bf" stroke="#5a1040" stroke-width="0.9"/>
<rect x="229.24" y="345.70" width="5.60" height="3.00" rx="0.8" fill="#f781bf" stroke="#5a1040" stroke-width="0.9"/>
<rect x="239.86" y="345.70" width="5.60" height="3.00" rx="0.8" fill="#f781bf" stroke="#5a1040" stroke-width="0.9"/>
<rect x="250.48" y="343.70" width="5.60" height="3.00" rx="0.8" fill="#f781bf" stroke="#5a1040" stroke-width="0.9"/>
<rect x="261.10" y="343.40" width="5.60" height="3.00" rx="0.8" fill="#f781bf" stroke="#5a1040" stroke-width="0.9"/>
<rect x="271.72" y="343.00" width="5.60" height="3.00" rx="0.8" fill="#f781bf" stroke="#5a1040" stroke-width="0.9"/>
<rect x="282.34" y="343.40" width="5.60" height="3.00" rx="0.8" fill="#f781bf" stroke="#5a1040" stroke-width="0.9"/>
<rect x="292.96" y="342.20" width="5.60" height="3.00" rx="0.8" fill="#f781bf" stroke="#5a1040" stroke-width="0.9"/>
<rect x="303.58" y="342.20" width="5.60" height="3.00" rx="0.8" fill="#f781bf" stroke="#5a1040" stroke-width="0.9"/>
<rect x="314.20" y="342.20" width="5.60" height="3.00" rx="0.8" fill="#f781bf" stroke="#5a1040" stroke-width="0.9"/>
<rect x="324.82" y="342.20" width="5.60" height="3.00" rx="0.8" fill="#f781bf" stroke="#5a1040" stroke-width="0.9"/>
<rect x="335.44" y="341.50" width="5.60" height="3.00" rx="0.8" fill="#f781bf" stroke="#5a1040" stroke-width="0.9"/>
<rect x="346.06" y="341.10" width="5.60" height="3.00" rx="0.8" fill="#f781bf" stroke="#5a1040" stroke-width="0.9"/>
<rect x="356.68" y="341.10" width="5.60" height="3.00" rx="0.8" fill="#f781bf" stroke="#5a1040" stroke-width="0.9"/>
<rect x="367.30" y="339.90" width="5.60" height="3.00" rx="0.8" fill="#f781bf" stroke="#5a1040" stroke-width="0.9"/>
<rect x="377.92" y="336.60" width="5.60" height="3.00" rx="0.8" fill="#f781bf" stroke="#5a1040" stroke-width="0.9"/>
<rect x="388.54" y="336.00" width="5.60" height="3.00" rx="0.8" fill="#f781bf" stroke="#5a1040" stroke-width="0.9"/>
<rect x="399.16" y="337.40" width="5.60" height="3.00" rx="0.8" fill="#f781bf" stroke="#5a1040" stroke-width="0.9"/>
<rect x="409.78" y="336.90" width="5.60" height="3.00" rx="0.8" fill="#f781bf" stroke="#5a1040" stroke-width="0.9"/>
<rect x="420.40" y="336.40" width="5.60" height="3.00" rx="0.8" fill="#f781bf" stroke="#5a1040" stroke-width="0.9"/>
<rect x="431.02" y="325.50" width="5.60" height="3.00" rx="0.8" fill="#f781bf" stroke="#5a1040" stroke-width="0.9"/>
<rect x="441.64" y="331.80" width="5.60" height="3.00" rx="0.8" fill="#f781bf" stroke="#5a1040" stroke-width="0.9"/>
<rect x="452.26" y="331.00" width="5.60" height="3.00" rx="0.8" fill="#f781bf" stroke="#5a1040" stroke-width="0.9"/>
<rect x="462.88" y="328.20" width="5.60" height="3.00" rx="0.8" fill="#f781bf" stroke="#5a1040" stroke-width="0.9"/>
<rect x="473.50" y="327.90" width="5.60" height="3.00" rx="0.8" fill="#f781bf" stroke="#5a1040" stroke-width="0.9"/>
<rect x="484.12" y="327.10" width="5.60" height="3.00" rx="0.8" fill="#f781bf" stroke="#5a1040" stroke-width="0.9"/>
<rect x="494.74" y="326.40" width="5.60" height="3.00" rx="0.8" fill="#f781bf" stroke="#5a1040" stroke-width="0.9"/>
<rect x="505.36" y="326.10" width="5.60" height="3.00" rx="0.8" fill="#f781bf" stroke="#5a1040" stroke-width="0.9"/>
<rect x="515.98" y="325.10" width="5.60" height="3.00" rx="0.8" fill="#f781bf" stroke="#5a1040" stroke-width="0.9"/>
<rect x="526.60" y="323.00" width="5.60" height="3.00" rx="0.8" fill="#f781bf" stroke="#5a1040" stroke-width="0.9"/>
<rect x="537.22" y="323.90" width="5.60" height="3.00" rx="0.8" fill="#f781bf" stroke="#5a1040" stroke-width="0.9"/>
<rect x="547.84" y="322.30" width="5.60" height="3.00" rx="0.8" fill="#f781bf" stroke="#5a1040" stroke-width="0.9"/>
<rect x="558.46" y="321.70" width="5.60" height="3.00" rx="0.8" fill="#f781bf" stroke="#5a1040" stroke-width="0.9"/>
<rect x="569.08" y="320.80" width="5.60" height="3.00" rx="0.8" fill="#f781bf" stroke="#5a1040" stroke-width="0.9"/>
<rect x="579.70" y="320.80" width="5.60" height="3.00" rx="0.8" fill="#f781bf" stroke="#5a1040" stroke-width="0.9"/>
<polyline points="62.12,108.50 72.74,108.10 83.36,106.60 93.98,105.10 104.60,103.40 115.22,102.60 125.84,100.60 136.46,98.50 147.08,96.60 157.70,96.00 168.32,93.40 178.94,91.50 189.56,90.50 200.18,87.50 210.80,86.40 221.42,85.20 232.04,83.10 242.66,80.30 253.28,79.00 263.90,76.70 274.52,75.40 285.14,72.90 295.76,71.60 306.38,69.10 317.00,67.60 327.62,65.00 338.24,62.50 348.86,60.40 359.48,59.40 370.10,56.90 380.72,54.70 391.34,52.60 401.96,49.20 412.58,47.30 423.20,43.50 433.82,42.20 444.44,40.30 455.06,38.60 465.68,36.00 476.30,34.40 486.92,31.60 497.54,28.10 508.16,26.30 518.78,24.10 529.40,20.30 540.02,18.80 550.64,16.50 561.26,13.30 571.88,11.40 582.50,8.90" fill="none" stroke="#b06838" stroke-width="2.0" stroke-linejoin="round"/>
<path d="M62.12 105.00L62.97 107.33L65.45 107.42L63.50 108.95L64.18 111.33L62.12 109.95L60.06 111.33L60.74 108.95L58.79 107.42L61.27 107.33Z" fill="#a65628" stroke="#000" stroke-width="0.9"/>
<path d="M72.74 104.60L73.59 106.93L76.07 107.02L74.12 108.55L74.80 110.93L72.74 109.55L70.68 110.93L71.36 108.55L69.41 107.02L71.89 106.93Z" fill="#a65628" stroke="#000" stroke-width="0.9"/>
<path d="M83.36 103.10L84.21 105.43L86.69 105.52L84.74 107.05L85.42 109.43L83.36 108.05L81.30 109.43L81.98 107.05L80.03 105.52L82.51 105.43Z" fill="#a65628" stroke="#000" stroke-width="0.9"/>
<path d="M93.98 101.60L94.83 103.93L97.31 104.02L95.36 105.55L96.04 107.93L93.98 106.55L91.92 107.93L92.60 105.55L90.65 104.02L93.13 103.93Z" fill="#a65628" stroke="#000" stroke-width="0.9"/>
<path d="M104.60 99.90L105.45 102.23L107.93 102.32L105.98 103.85L106.66 106.23L104.60 104.85L102.54 106.23L103.22 103.85L101.27 102.32L103.75 102.23Z" fill="#a65628" stroke="#000" stroke-width="0.9"/>
<path d="M115.22 99.10L116.07 101.43L118.55 101.52L116.60 103.05L117.28 105.43L115.22 104.05L113.16 105.43L113.84 103.05L111.89 101.52L114.37 101.43Z" fill="#a65628" stroke="#000" stroke-width="0.9"/>
<path d="M125.84 97.10L126.69 99.43L129.17 99.52L127.22 101.05L127.90 103.43L125.84 102.05L123.78 103.43L124.46 101.05L122.51 99.52L124.99 99.43Z" fill="#a65628" stroke="#000" stroke-width="0.9"/>
<path d="M136.46 95.00L137.31 97.33L139.79 97.42L137.84 98.95L138.52 101.33L136.46 99.95L134.40 101.33L135.08 98.95L133.13 97.42L135.61 97.33Z" fill="#a65628" stroke="#000" stroke-width="0.9"/>
<path d="M147.08 93.10L147.93 95.43L150.41 95.52L148.46 97.05L149.14 99.43L147.08 98.05L145.02 99.43L145.70 97.05L143.75 95.52L146.23 95.43Z" fill="#a65628" stroke="#000" stroke-width="0.9"/>
<path d="M157.70 92.50L158.55 94.83L161.03 94.92L159.08 96.45L159.76 98.83L157.70 97.45L155.64 98.83L156.32 96.45L154.37 94.92L156.85 94.83Z" fill="#a65628" stroke="#000" stroke-width="0.9"/>
<path d="M168.32 89.90L169.17 92.23L171.65 92.32L169.70 93.85L170.38 96.23L168.32 94.85L166.26 96.23L166.94 93.85L164.99 92.32L167.47 92.23Z" fill="#a65628" stroke="#000" stroke-width="0.9"/>
<path d="M178.94 88.00L179.79 90.33L182.27 90.42L180.32 91.95L181.00 94.33L178.94 92.95L176.88 94.33L177.56 91.95L175.61 90.42L178.09 90.33Z" fill="#a65628" stroke="#000" stroke-width="0.9"/>
<path d="M189.56 87.00L190.41 89.33L192.89 89.42L190.94 90.95L191.62 93.33L189.56 91.95L187.50 93.33L188.18 90.95L186.23 89.42L188.71 89.33Z" fill="#a65628" stroke="#000" stroke-width="0.9"/>
<path d="M200.18 84.00L201.03 86.33L203.51 86.42L201.56 87.95L202.24 90.33L200.18 88.95L198.12 90.33L198.80 87.95L196.85 86.42L199.33 86.33Z" fill="#a65628" stroke="#000" stroke-width="0.9"/>
<path d="M210.80 82.90L211.65 85.23L214.13 85.32L212.18 86.85L212.86 89.23L210.80 87.85L208.74 89.23L209.42 86.85L207.47 85.32L209.95 85.23Z" fill="#a65628" stroke="#000" stroke-width="0.9"/>
<path d="M221.42 81.70L222.27 84.03L224.75 84.12L222.80 85.65L223.48 88.03L221.42 86.65L219.36 88.03L220.04 85.65L218.09 84.12L220.57 84.03Z" fill="#a65628" stroke="#000" stroke-width="0.9"/>
<path d="M232.04 79.60L232.89 81.93L235.37 82.02L233.42 83.55L234.10 85.93L232.04 84.55L229.98 85.93L230.66 83.55L228.71 82.02L231.19 81.93Z" fill="#a65628" stroke="#000" stroke-width="0.9"/>
<path d="M242.66 76.80L243.51 79.13L245.99 79.22L244.04 80.75L244.72 83.13L242.66 81.75L240.60 83.13L241.28 80.75L239.33 79.22L241.81 79.13Z" fill="#a65628" stroke="#000" stroke-width="0.9"/>
<path d="M253.28 75.50L254.13 77.83L256.61 77.92L254.66 79.45L255.34 81.83L253.28 80.45L251.22 81.83L251.90 79.45L249.95 77.92L252.43 77.83Z" fill="#a65628" stroke="#000" stroke-width="0.9"/>
<path d="M263.90 73.20L264.75 75.53L267.23 75.62L265.28 77.15L265.96 79.53L263.90 78.15L261.84 79.53L262.52 77.15L260.57 75.62L263.05 75.53Z" fill="#a65628" stroke="#000" stroke-width="0.9"/>
<path d="M274.52 71.90L275.37 74.23L277.85 74.32L275.90 75.85L276.58 78.23L274.52 76.85L272.46 78.23L273.14 75.85L271.19 74.32L273.67 74.23Z" fill="#a65628" stroke="#000" stroke-width="0.9"/>
<path d="M285.14 69.40L285.99 71.73L288.47 71.82L286.52 73.35L287.20 75.73L285.14 74.35L283.08 75.73L283.76 73.35L281.81 71.82L284.29 71.73Z" fill="#a65628" stroke="#000" stroke-width="0.9"/>
<path d="M295.76 68.10L296.61 70.43L299.09 70.52L297.14 72.05L297.82 74.43L295.76 73.05L293.70 74.43L294.38 72.05L292.43 70.52L294.91 70.43Z" fill="#a65628" stroke="#000" stroke-width="0.9"/>
<path d="M306.38 65.60L307.23 67.93L309.71 68.02L307.76 69.55L308.44 71.93L306.38 70.55L304.32 71.93L305.00 69.55L303.05 68.02L305.53 67.93Z" fill="#a65628" stroke="#000" stroke-width="0.9"/>
<path d="M317.00 64.10L317.85 66.43L320.33 66.52L318.38 68.05L319.06 70.43L317.00 69.05L314.94 70.43L315.62 68.05L313.67 66.52L316.15 66.43Z" fill="#a65628" stroke="#000" stroke-width="0.9"/>
<path d="M327.62 61.50L328.47 63.83L330.95 63.92L329.00 65.45L329.68 67.83L327.62 66.45L325.56 67.83L326.24 65.45L324.29 63.92L326.77 63.83Z" fill="#a65628" stroke="#000" stroke-width="0.9"/>
<path d="M338.24 59.00L339.09 61.33L341.57 61.42L339.62 62.95L340.30 65.33L338.24 63.95L336.18 65.33L336.86 62.95L334.91 61.42L337.39 61.33Z" fill="#a65628" stroke="#000" stroke-width="0.9"/>
<path d="M348.86 56.90L349.71 59.23L352.19 59.32L350.24 60.85L350.92 63.23L348.86 61.85L346.80 63.23L347.48 60.85L345.53 59.32L348.01 59.23Z" fill="#a65628" stroke="#000" stroke-width="0.9"/>
<path d="M359.48 55.90L360.33 58.23L362.81 58.32L360.86 59.85L361.54 62.23L359.48 60.85L357.42 62.23L358.10 59.85L356.15 58.32L358.63 58.23Z" fill="#a65628" stroke="#000" stroke-width="0.9"/>
<path d="M370.10 53.40L370.95 55.73L373.43 55.82L371.48 57.35L372.16 59.73L370.10 58.35L368.04 59.73L368.72 57.35L366.77 55.82L369.25 55.73Z" fill="#a65628" stroke="#000" stroke-width="0.9"/>
<path d="M380.72 51.20L381.57 53.53L384.05 53.62L382.10 55.15L382.78 57.53L380.72 56.15L378.66 57.53L379.34 55.15L377.39 53.62L379.87 53.53Z" fill="#a65628" stroke="#000" stroke-width="0.9"/>
<path d="M391.34 49.10L392.19 51.43L394.67 51.52L392.72 53.05L393.40 55.43L391.34 54.05L389.28 55.43L389.96 53.05L388.01 51.52L390.49 51.43Z" fill="#a65628" stroke="#000" stroke-width="0.9"/>
<path d="M401.96 45.70L402.81 48.03L405.29 48.12L403.34 49.65L404.02 52.03L401.96 50.65L399.90 52.03L400.58 49.65L398.63 48.12L401.11 48.03Z" fill="#a65628" stroke="#000" stroke-width="0.9"/>
<path d="M412.58 43.80L413.43 46.13L415.91 46.22L413.96 47.75L414.64 50.13L412.58 48.75L410.52 50.13L411.20 47.75L409.25 46.22L411.73 46.13Z" fill="#a65628" stroke="#000" stroke-width="0.9"/>
<path d="M423.20 40.00L424.05 42.33L426.53 42.42L424.58 43.95L425.26 46.33L423.20 44.95L421.14 46.33L421.82 43.95L419.87 42.42L422.35 42.33Z" fill="#a65628" stroke="#000" stroke-width="0.9"/>
<path d="M433.82 38.70L434.67 41.03L437.15 41.12L435.20 42.65L435.88 45.03L433.82 43.65L431.76 45.03L432.44 42.65L430.49 41.12L432.97 41.03Z" fill="#a65628" stroke="#000" stroke-width="0.9"/>
<path d="M444.44 36.80L445.29 39.13L447.77 39.22L445.82 40.75L446.50 43.13L444.44 41.75L442.38 43.13L443.06 40.75L441.11 39.22L443.59 39.13Z" fill="#a65628" stroke="#000" stroke-width="0.9"/>
<path d="M455.06 35.10L455.91 37.43L458.39 37.52L456.44 39.05L457.12 41.43L455.06 40.05L453.00 41.43L453.68 39.05L451.73 37.52L454.21 37.43Z" fill="#a65628" stroke="#000" stroke-width="0.9"/>
<path d="M465.68 32.50L466.53 34.83L469.01 34.92L467.06 36.45L467.74 38.83L465.68 37.45L463.62 38.83L464.30 36.45L462.35 34.92L464.83 34.83Z" fill="#a65628" stroke="#000" stroke-width="0.9"/>
<path d="M476.30 30.90L477.15 33.23L479.63 33.32L477.68 34.85L478.36 37.23L476.30 35.85L474.24 37.23L474.92 34.85L472.97 33.32L475.45 33.23Z" fill="#a65628" stroke="#000" stroke-width="0.9"/>
<path d="M486.92 28.10L487.77 30.43L490.25 30.52L488.30 32.05L488.98 34.43L486.92 33.05L484.86 34.43L485.54 32.05L483.59 30.52L486.07 30.43Z" fill="#a65628" stroke="#000" stroke-width="0.9"/>
<path d="M497.54 24.60L498.39 26.93L500.87 27.02L498.92 28.55L499.60 30.93L497.54 29.55L495.48 30.93L496.16 28.55L494.21 27.02L496.69 26.93Z" fill="#a65628" stroke="#000" stroke-width="0.9"/>
<path d="M508.16 22.80L509.01 25.13L511.49 25.22L509.54 26.75L510.22 29.13L508.16 27.75L506.10 29.13L506.78 26.75L504.83 25.22L507.31 25.13Z" fill="#a65628" stroke="#000" stroke-width="0.9"/>
<path d="M518.78 20.60L519.63 22.93L522.11 23.02L520.16 24.55L520.84 26.93L518.78 25.55L516.72 26.93L517.40 24.55L515.45 23.02L517.93 22.93Z" fill="#a65628" stroke="#000" stroke-width="0.9"/>
<path d="M529.40 16.80L530.25 19.13L532.73 19.22L530.78 20.75L531.46 23.13L529.40 21.75L527.34 23.13L528.02 20.75L526.07 19.22L528.55 19.13Z" fill="#a65628" stroke="#000" stroke-width="0.9"/>
<path d="M540.02 15.30L540.87 17.63L543.35 17.72L541.40 19.25L542.08 21.63L540.02 20.25L537.96 21.63L538.64 19.25L536.69 17.72L539.17 17.63Z" fill="#a65628" stroke="#000" stroke-width="0.9"/>
<path d="M550.64 13.00L551.49 15.33L553.97 15.42L552.02 16.95L552.70 19.33L550.64 17.95L548.58 19.33L549.26 16.95L547.31 15.42L549.79 15.33Z" fill="#a65628" stroke="#000" stroke-width="0.9"/>
<path d="M561.26 9.80L562.11 12.13L564.59 12.22L562.64 13.75L563.32 16.13L561.26 14.75L559.20 16.13L559.88 13.75L557.93 12.22L560.41 12.13Z" fill="#a65628" stroke="#000" stroke-width="0.9"/>
<path d="M571.88 7.90L572.73 10.23L575.21 10.32L573.26 11.85L573.94 14.23L571.88 12.85L569.82 14.23L570.50 11.85L568.55 10.32L571.03 10.23Z" fill="#a65628" stroke="#000" stroke-width="0.9"/>
<path d="M582.50 5.40L583.35 7.73L585.83 7.82L583.88 9.35L584.56 11.73L582.50 10.35L580.44 11.73L581.12 9.35L579.17 7.82L581.65 7.73Z" fill="#a65628" stroke="#000" stroke-width="0.9"/>
<polyline points="62.12,404.50 72.74,403.90 83.36,403.90 93.98,402.50 104.60,402.50 115.22,402.50 125.84,402.80 136.46,402.30 147.08,402.80 157.70,401.60 168.32,401.60 178.94,402.30 189.56,400.40 200.18,400.40 210.80,399.20 221.42,398.50 232.04,398.00 242.66,397.60 253.28,397.00 263.90,397.00 274.52,396.50 285.14,396.50 295.76,396.50 306.38,395.80 317.00,394.60 327.62,395.80 338.24,395.80 348.86,394.60 359.48,394.10 370.10,393.40 380.72,392.50 391.34,392.50 401.96,392.10 412.58,391.60 423.20,391.10 433.82,391.10 444.44,390.30 455.06,389.80 465.68,387.30 476.30,387.10 486.92,387.00 497.54,386.50 508.16,386.00 518.78,384.20 529.40,385.00 540.02,384.20 550.64,383.60 561.26,383.30 571.88,382.70 582.50,382.60" fill="none" stroke="#ff7f00" stroke-width="2.0" stroke-linejoin="round"/>
<path d="M60.92 401.20L63.32 401.20L63.32 403.30L65.42 403.30L65.42 405.70L63.32 405.70L63.32 407.80L60.92 407.80L60.92 405.70L58.82 405.70L58.82 403.30L60.92 403.30Z" fill="#ff7f00" stroke="#000" stroke-width="0.9"/>
<path d="M71.54 400.60L73.94 400.60L73.94 402.70L76.04 402.70L76.04 405.10L73.94 405.10L73.94 407.20L71.54 407.20L71.54 405.10L69.44 405.10L69.44 402.70L71.54 402.70Z" fill="#ff7f00" stroke="#000" stroke-width="0.9"/>
<path d="M82.16 400.60L84.56 400.60L84.56 402.70L86.66 402.70L86.66 405.10L84.56 405.10L84.56 407.20L82.16 407.20L82.16 405.10L80.06 405.10L80.06 402.70L82.16 402.70Z" fill="#ff7f00" stroke="#000" stroke-width="0.9"/>
<path d="M92.78 399.20L95.18 399.20L95.18 401.30L97.28 401.30L97.28 403.70L95.18 403.70L95.18 405.80L92.78 405.80L92.78 403.70L90.68 403.70L90.68 401.30L92.78 401.30Z" fill="#ff7f00" stroke="#000" stroke-width="0.9"/>
<path d="M103.40 399.20L105.80 399.20L105.80 401.30L107.90 401.30L107.90 403.70L105.80 403.70L105.80 405.80L103.40 405.80L103.40 403.70L101.30 403.70L101.30 401.30L103.40 401.30Z" fill="#ff7f00" stroke="#000" stroke-width="0.9"/>
<path d="M114.02 399.20L116.42 399.20L116.42 401.30L118.52 401.30L118.52 403.70L116.42 403.70L116.42 405.80L114.02 405.80L114.02 403.70L111.92 403.70L111.92 401.30L114.02 401.30Z" fill="#ff7f00" stroke="#000" stroke-width="0.9"/>
<path d="M124.64 399.50L127.04 399.50L127.04 401.60L129.14 401.60L129.14 404.00L127.04 404.00L127.04 406.10L124.64 406.10L124.64 404.00L122.54 404.00L122.54 401.60L124.64 401.60Z" fill="#ff7f00" stroke="#000" stroke-width="0.9"/>
<path d="M135.26 399.00L137.66 399.00L137.66 401.10L139.76 401.10L139.76 403.50L137.66 403.50L137.66 405.60L135.26 405.60L135.26 403.50L133.16 403.50L133.16 401.10L135.26 401.10Z" fill="#ff7f00" stroke="#000" stroke-width="0.9"/>
<path d="M145.88 399.50L148.28 399.50L148.28 401.60L150.38 401.60L150.38 404.00L148.28 404.00L148.28 406.10L145.88 406.10L145.88 404.00L143.78 404.00L143.78 401.60L145.88 401.60Z" fill="#ff7f00" stroke="#000" stroke-width="0.9"/>
<path d="M156.50 398.30L158.90 398.30L158.90 400.40L161.00 400.40L161.00 402.80L158.90 402.80L158.90 404.90L156.50 404.90L156.50 402.80L154.40 402.80L154.40 400.40L156.50 400.40Z" fill="#ff7f00" stroke="#000" stroke-width="0.9"/>
<path d="M167.12 398.30L169.52 398.30L169.52 400.40L171.62 400.40L171.62 402.80L169.52 402.80L169.52 404.90L167.12 404.90L167.12 402.80L165.02 402.80L165.02 400.40L167.12 400.40Z" fill="#ff7f00" stroke="#000" stroke-width="0.9"/>
<path d="M177.74 399.00L180.14 399.00L180.14 401.10L182.24 401.10L182.24 403.50L180.14 403.50L180.14 405.60L177.74 405.60L177.74 403.50L175.64 403.50L175.64 401.10L177.74 401.10Z" fill="#ff7f00" stroke="#000" stroke-width="0.9"/>
<path d="M188.36 397.10L190.76 397.10L190.76 399.20L192.86 399.20L192.86 401.60L190.76 401.60L190.76 403.70L188.36 403.70L188.36 401.60L186.26 401.60L186.26 399.20L188.36 399.20Z" fill="#ff7f00" stroke="#000" stroke-width="0.9"/>
<path d="M198.98 397.10L201.38 397.10L201.38 399.20L203.48 399.20L203.48 401.60L201.38 401.60L201.38 403.70L198.98 403.70L198.98 401.60L196.88 401.60L196.88 399.20L198.98 399.20Z" fill="#ff7f00" stroke="#000" stroke-width="0.9"/>
<path d="M209.60 395.90L212.00 395.90L212.00 398.00L214.10 398.00L214.10 400.40L212.00 400.40L212.00 402.50L209.60 402.50L209.60 400.40L207.50 400.40L207.50 398.00L209.60 398.00Z" fill="#ff7f00" stroke="#000" stroke-width="0.9"/>
<path d="M220.22 395.20L222.62 395.20L222.62 397.30L224.72 397.30L224.72 399.70L222.62 399.70L222.62 401.80L220.22 401.80L220.22 399.70L218.12 399.70L218.12 397.30L220.22 397.30Z" fill="#ff7f00" stroke="#000" stroke-width="0.9"/>
<path d="M230.84 394.70L233.24 394.70L233.24 396.80L235.34 396.80L235.34 399.20L233.24 399.20L233.24 401.30L230.84 401.30L230.84 399.20L228.74 399.20L228.74 396.80L230.84 396.80Z" fill="#ff7f00" stroke="#000" stroke-width="0.9"/>
<path d="M241.46 394.30L243.86 394.30L243.86 396.40L245.96 396.40L245.96 398.80L243.86 398.80L243.86 400.90L241.46 400.90L241.46 398.80L239.36 398.80L239.36 396.40L241.46 396.40Z" fill="#ff7f00" stroke="#000" stroke-width="0.9"/>
<path d="M252.08 393.70L254.48 393.70L254.48 395.80L256.58 395.80L256.58 398.20L254.48 398.20L254.48 400.30L252.08 400.30L252.08 398.20L249.98 398.20L249.98 395.80L252.08 395.80Z" fill="#ff7f00" stroke="#000" stroke-width="0.9"/>
<path d="M262.70 393.70L265.10 393.70L265.10 395.80L267.20 395.80L267.20 398.20L265.10 398.20L265.10 400.30L262.70 400.30L262.70 398.20L260.60 398.20L260.60 395.80L262.70 395.80Z" fill="#ff7f00" stroke="#000" stroke-width="0.9"/>
<path d="M273.32 393.20L275.72 393.20L275.72 395.30L277.82 395.30L277.82 397.70L275.72 397.70L275.72 399.80L273.32 399.80L273.32 397.70L271.22 397.70L271.22 395.30L273.32 395.30Z" fill="#ff7f00" stroke="#000" stroke-width="0.9"/>
<path d="M283.94 393.20L286.34 393.20L286.34 395.30L288.44 395.30L288.44 397.70L286.34 397.70L286.34 399.80L283.94 399.80L283.94 397.70L281.84 397.70L281.84 395.30L283.94 395.30Z" fill="#ff7f00" stroke="#000" stroke-width="0.9"/>
<path d="M294.56 393.20L296.96 393.20L296.96 395.30L299.06 395.30L299.06 397.70L296.96 397.70L296.96 399.80L294.56 399.80L294.56 397.70L292.46 397.70L292.46 395.30L294.56 395.30Z" fill="#ff7f00" stroke="#000" stroke-width="0.9"/>
<path d="M305.18 392.50L307.58 392.50L307.58 394.60L309.68 394.60L309.68 397.00L307.58 397.00L307.58 399.10L305.18 399.10L305.18 397.00L303.08 397.00L303.08 394.60L305.18 394.60Z" fill="#ff7f00" stroke="#000" stroke-width="0.9"/>
<path d="M315.80 391.30L318.20 391.30L318.20 393.40L320.30 393.40L320.30 395.80L318.20 395.80L318.20 397.90L315.80 397.90L315.80 395.80L313.70 395.80L313.70 393.40L315.80 393.40Z" fill="#ff7f00" stroke="#000" stroke-width="0.9"/>
<path d="M326.42 392.50L328.82 392.50L328.82 394.60L330.92 394.60L330.92 397.00L328.82 397.00L328.82 399.10L326.42 399.10L326.42 397.00L324.32 397.00L324.32 394.60L326.42 394.60Z" fill="#ff7f00" stroke="#000" stroke-width="0.9"/>
<path d="M337.04 392.50L339.44 392.50L339.44 394.60L341.54 394.60L341.54 397.00L339.44 397.00L339.44 399.10L337.04 399.10L337.04 397.00L334.94 397.00L334.94 394.60L337.04 394.60Z" fill="#ff7f00" stroke="#000" stroke-width="0.9"/>
<path d="M347.66 391.30L350.06 391.30L350.06 393.40L352.16 393.40L352.16 395.80L350.06 395.80L350.06 397.90L347.66 397.90L347.66 395.80L345.56 395.80L345.56 393.40L347.66 393.40Z" fill="#ff7f00" stroke="#000" stroke-width="0.9"/>
<path d="M358.28 390.80L360.68 390.80L360.68 392.90L362.78 392.90L362.78 395.30L360.68 395.30L360.68 397.40L358.28 397.40L358.28 395.30L356.18 395.30L356.18 392.90L358.28 392.90Z" fill="#ff7f00" stroke="#000" stroke-width="0.9"/>
<path d="M368.90 390.10L371.30 390.10L371.30 392.20L373.40 392.20L373.40 394.60L371.30 394.60L371.30 396.70L368.90 396.70L368.90 394.60L366.80 394.60L366.80 392.20L368.90 392.20Z" fill="#ff7f00" stroke="#000" stroke-width="0.9"/>
<path d="M379.52 389.20L381.92 389.20L381.92 391.30L384.02 391.30L384.02 393.70L381.92 393.70L381.92 395.80L379.52 395.80L379.52 393.70L377.42 393.70L377.42 391.30L379.52 391.30Z" fill="#ff7f00" stroke="#000" stroke-width="0.9"/>
<path d="M390.14 389.20L392.54 389.20L392.54 391.30L394.64 391.30L394.64 393.70L392.54 393.70L392.54 395.80L390.14 395.80L390.14 393.70L388.04 393.70L388.04 391.30L390.14 391.30Z" fill="#ff7f00" stroke="#000" stroke-width="0.9"/>
<path d="M400.76 388.80L403.16 388.80L403.16 390.90L405.26 390.90L405.26 393.30L403.16 393.30L403.16 395.40L400.76 395.40L400.76 393.30L398.66 393.30L398.66 390.90L400.76 390.90Z" fill="#ff7f00" stroke="#000" stroke-width="0.9"/>
<path d="M411.38 388.30L413.78 388.30L413.78 390.40L415.88 390.40L415.88 392.80L413.78 392.80L413.78 394.90L411.38 394.90L411.38 392.80L409.28 392.80L409.28 390.40L411.38 390.40Z" fill="#ff7f00" stroke="#000" stroke-width="0.9"/>
<path d="M422.00 387.80L424.40 387.80L424.40 389.90L426.50 389.90L426.50 392.30L424.40 392.30L424.40 394.40L422.00 394.40L422.00 392.30L419.90 392.30L419.90 389.90L422.00 389.90Z" fill="#ff7f00" stroke="#000" stroke-width="0.9"/>
<path d="M432.62 387.80L435.02 387.80L435.02 389.90L437.12 389.90L437.12 392.30L435.02 392.30L435.02 394.40L432.62 394.40L432.62 392.30L430.52 392.30L430.52 389.90L432.62 389.90Z" fill="#ff7f00" stroke="#000" stroke-width="0.9"/>
<path d="M443.24 387.00L445.64 387.00L445.64 389.10L447.74 389.10L447.74 391.50L445.64 391.50L445.64 393.60L443.24 393.60L443.24 391.50L441.14 391.50L441.14 389.10L443.24 389.10Z" fill="#ff7f00" stroke="#000" stroke-width="0.9"/>
<path d="M453.86 386.50L456.26 386.50L456.26 388.60L458.36 388.60L458.36 391.00L456.26 391.00L456.26 393.10L453.86 393.10L453.86 391.00L451.76 391.00L451.76 388.60L453.86 388.60Z" fill="#ff7f00" stroke="#000" stroke-width="0.9"/>
<path d="M464.48 384.00L466.88 384.00L466.88 386.10L468.98 386.10L468.98 388.50L466.88 388.50L466.88 390.60L464.48 390.60L464.48 388.50L462.38 388.50L462.38 386.10L464.48 386.10Z" fill="#ff7f00" stroke="#000" stroke-width="0.9"/>
<path d="M475.10 383.80L477.50 383.80L477.50 385.90L479.60 385.90L479.60 388.30L477.50 388.30L477.50 390.40L475.10 390.40L475.10 388.30L473.00 388.30L473.00 385.90L475.10 385.90Z" fill="#ff7f00" stroke="#000" stroke-width="0.9"/>
<path d="M485.72 383.70L488.12 383.70L488.12 385.80L490.22 385.80L490.22 388.20L488.12 388.20L488.12 390.30L485.72 390.30L485.72 388.20L483.62 388.20L483.62 385.80L485.72 385.80Z" fill="#ff7f00" stroke="#000" stroke-width="0.9"/>
<path d="M496.34 383.20L498.74 383.20L498.74 385.30L500.84 385.30L500.84 387.70L498.74 387.70L498.74 389.80L496.34 389.80L496.34 387.70L494.24 387.70L494.24 385.30L496.34 385.30Z" fill="#ff7f00" stroke="#000" stroke-width="0.9"/>
<path d="M506.96 382.70L509.36 382.70L509.36 384.80L511.46 384.80L511.46 387.20L509.36 387.20L509.36 389.30L506.96 389.30L506.96 387.20L504.86 387.20L504.86 384.80L506.96 384.80Z" fill="#ff7f00" stroke="#000" stroke-width="0.9"/>
<path d="M517.58 380.90L519.98 380.90L519.98 383.00L522.08 383.00L522.08 385.40L519.98 385.40L519.98 387.50L517.58 387.50L517.58 385.40L515.48 385.40L515.48 383.00L517.58 383.00Z" fill="#ff7f00" stroke="#000" stroke-width="0.9"/>
<path d="M528.20 381.70L530.60 381.70L530.60 383.80L532.70 383.80L532.70 386.20L530.60 386.20L530.60 388.30L528.20 388.30L528.20 386.20L526.10 386.20L526.10 383.80L528.20 383.80Z" fill="#ff7f00" stroke="#000" stroke-width="0.9"/>
<path d="M538.82 380.90L541.22 380.90L541.22 383.00L543.32 383.00L543.32 385.40L541.22 385.40L541.22 387.50L538.82 387.50L538.82 385.40L536.72 385.40L536.72 383.00L538.82 383.00Z" fill="#ff7f00" stroke="#000" stroke-width="0.9"/>
<path d="M549.44 380.30L551.84 380.30L551.84 382.40L553.94 382.40L553.94 384.80L551.84 384.80L551.84 386.90L549.44 386.90L549.44 384.80L547.34 384.80L547.34 382.40L549.44 382.40Z" fill="#ff7f00" stroke="#000" stroke-width="0.9"/>
<path d="M560.06 380.00L562.46 380.00L562.46 382.10L564.56 382.10L564.56 384.50L562.46 384.50L562.46 386.60L560.06 386.60L560.06 384.50L557.96 384.50L557.96 382.10L560.06 382.10Z" fill="#ff7f00" stroke="#000" stroke-width="0.9"/>
<path d="M570.68 379.40L573.08 379.40L573.08 381.50L575.18 381.50L575.18 383.90L573.08 383.90L573.08 386.00L570.68 386.00L570.68 383.90L568.58 383.90L568.58 381.50L570.68 381.50Z" fill="#ff7f00" stroke="#000" stroke-width="0.9"/>
<path d="M581.30 379.30L583.70 379.30L583.70 381.40L585.80 381.40L585.80 383.80L583.70 383.80L583.70 385.90L581.30 385.90L581.30 383.80L579.20 383.80L579.20 381.40L581.30 381.40Z" fill="#ff7f00" stroke="#000" stroke-width="0.9"/>
<polyline points="62.12,384.30 72.74,384.30 83.36,383.90 93.98,383.50 104.60,383.50 115.22,383.50 125.84,382.70 136.46,382.70 147.08,382.70 157.70,382.70 168.32,382.20 178.94,381.20 189.56,380.80 200.18,380.30 210.80,380.00 221.42,379.50 232.04,378.80 242.66,377.30 253.28,377.50 263.90,378.00 274.52,378.00 285.14,378.00 295.76,378.00 306.38,378.00 317.00,377.60 327.62,375.20 338.24,375.20 348.86,375.20 359.48,374.50 370.10,374.50 380.72,373.00 391.34,372.00 401.96,372.30 412.58,371.90 423.20,371.90 433.82,371.30 444.44,371.30 455.06,370.50 465.68,369.80 476.30,369.70 486.92,369.00 497.54,368.80 508.16,367.60 518.78,367.70 529.40,367.00 540.02,366.40 550.64,365.80 561.26,365.80 571.88,364.90 582.50,364.90" fill="none" stroke="#984ea3" stroke-width="2.0" stroke-linejoin="round"/>
<path d="M62.12 383.00L64.02 381.10L65.32 382.40L63.42 384.30L65.32 386.20L64.02 387.50L62.12 385.60L60.22 387.50L58.92 386.20L60.82 384.30L58.92 382.40L60.22 381.10Z" fill="#984ea3" stroke="#000" stroke-width="0.9"/>
<path d="M72.74 383.00L74.64 381.10L75.94 382.40L74.04 384.30L75.94 386.20L74.64 387.50L72.74 385.60L70.84 387.50L69.54 386.20L71.44 384.30L69.54 382.40L70.84 381.10Z" fill="#984ea3" stroke="#000" stroke-width="0.9"/>
<path d="M83.36 382.60L85.26 380.70L86.56 382.00L84.66 383.90L86.56 385.80L85.26 387.10L83.36 385.20L81.46 387.10L80.16 385.80L82.06 383.90L80.16 382.00L81.46 380.70Z" fill="#984ea3" stroke="#000" stroke-width="0.9"/>
<path d="M93.98 382.20L95.88 380.30L97.18 381.60L95.28 383.50L97.18 385.40L95.88 386.70L93.98 384.80L92.08 386.70L90.78 385.40L92.68 383.50L90.78 381.60L92.08 380.30Z" fill="#984ea3" stroke="#000" stroke-width="0.9"/>
<path d="M104.60 382.20L106.50 380.30L107.80 381.60L105.90 383.50L107.80 385.40L106.50 386.70L104.60 384.80L102.70 386.70L101.40 385.40L103.30 383.50L101.40 381.60L102.70 380.30Z" fill="#984ea3" stroke="#000" stroke-width="0.9"/>
<path d="M115.22 382.20L117.12 380.30L118.42 381.60L116.52 383.50L118.42 385.40L117.12 386.70L115.22 384.80L113.32 386.70L112.02 385.40L113.92 383.50L112.02 381.60L113.32 380.30Z" fill="#984ea3" stroke="#000" stroke-width="0.9"/>
<path d="M125.84 381.40L127.74 379.50L129.04 380.80L127.14 382.70L129.04 384.60L127.74 385.90L125.84 384.00L123.94 385.90L122.64 384.60L124.54 382.70L122.64 380.80L123.94 379.50Z" fill="#984ea3" stroke="#000" stroke-width="0.9"/>
<path d="M136.46 381.40L138.36 379.50L139.66 380.80L137.76 382.70L139.66 384.60L138.36 385.90L136.46 384.00L134.56 385.90L133.26 384.60L135.16 382.70L133.26 380.80L134.56 379.50Z" fill="#984ea3" stroke="#000" stroke-width="0.9"/>
<path d="M147.08 381.40L148.98 379.50L150.28 380.80L148.38 382.70L150.28 384.60L148.98 385.90L147.08 384.00L145.18 385.90L143.88 384.60L145.78 382.70L143.88 380.80L145.18 379.50Z" fill="#984ea3" stroke="#000" stroke-width="0.9"/>
<path d="M157.70 381.40L159.60 379.50L160.90 380.80L159.00 382.70L160.90 384.60L159.60 385.90L157.70 384.00L155.80 385.90L154.50 384.60L156.40 382.70L154.50 380.80L155.80 379.50Z" fill="#984ea3" stroke="#000" stroke-width="0.9"/>
<path d="M168.32 380.90L170.22 379.00L171.52 380.30L169.62 382.20L171.52 384.10L170.22 385.40L168.32 383.50L166.42 385.40L165.12 384.10L167.02 382.20L165.12 380.30L166.42 379.00Z" fill="#984ea3" stroke="#000" stroke-width="0.9"/>
<path d="M178.94 379.90L180.84 378.00L182.14 379.30L180.24 381.20L182.14 383.10L180.84 384.40L178.94 382.50L177.04 384.40L175.74 383.10L177.64 381.20L175.74 379.30L177.04 378.00Z" fill="#984ea3" stroke="#000" stroke-width="0.9"/>
<path d="M189.56 379.50L191.46 377.60L192.76 378.90L190.86 380.80L192.76 382.70L191.46 384.00L189.56 382.10L187.66 384.00L186.36 382.70L188.26 380.80L186.36 378.90L187.66 377.60Z" fill="#984ea3" stroke="#000" stroke-width="0.9"/>
<path d="M200.18 379.00L202.08 377.10L203.38 378.40L201.48 380.30L203.38 382.20L202.08 383.50L200.18 381.60L198.28 383.50L196.98 382.20L198.88 380.30L196.98 378.40L198.28 377.10Z" fill="#984ea3" stroke="#000" stroke-width="0.9"/>
<path d="M210.80 378.70L212.70 376.80L214.00 378.10L212.10 380.00L214.00 381.90L212.70 383.20L210.80 381.30L208.90 383.20L207.60 381.90L209.50 380.00L207.60 378.10L208.90 376.80Z" fill="#984ea3" stroke="#000" stroke-width="0.9"/>
<path d="M221.42 378.20L223.32 376.30L224.62 377.60L222.72 379.50L224.62 381.40L223.32 382.70L221.42 380.80L219.52 382.70L218.22 381.40L220.12 379.50L218.22 377.60L219.52 376.30Z" fill="#984ea3" stroke="#000" stroke-width="0.9"/>
<path d="M232.04 377.50L233.94 375.60L235.24 376.90L233.34 378.80L235.24 380.70L233.94 382.00L232.04 380.10L230.14 382.00L228.84 380.70L230.74 378.80L228.84 376.90L230.14 375.60Z" fill="#984ea3" stroke="#000" stroke-width="0.9"/>
<path d="M242.66 376.00L244.56 374.10L245.86 375.40L243.96 377.30L245.86 379.20L244.56 380.50L242.66 378.60L240.76 380.50L239.46 379.20L241.36 377.30L239.46 375.40L240.76 374.10Z" fill="#984ea3" stroke="#000" stroke-width="0.9"/>
<path d="M253.28 376.20L255.18 374.30L256.48 375.60L254.58 377.50L256.48 379.40L255.18 380.70L253.28 378.80L251.38 380.70L250.08 379.40L251.98 377.50L250.08 375.60L251.38 374.30Z" fill="#984ea3" stroke="#000" stroke-width="0.9"/>
<path d="M263.90 376.70L265.80 374.80L267.10 376.10L265.20 378.00L267.10 379.90L265.80 381.20L263.90 379.30L262.00 381.20L260.70 379.90L262.60 378.00L260.70 376.10L262.00 374.80Z" fill="#984ea3" stroke="#000" stroke-width="0.9"/>
<path d="M274.52 376.70L276.42 374.80L277.72 376.10L275.82 378.00L277.72 379.90L276.42 381.20L274.52 379.30L272.62 381.20L271.32 379.90L273.22 378.00L271.32 376.10L272.62 374.80Z" fill="#984ea3" stroke="#000" stroke-width="0.9"/>
<path d="M285.14 376.70L287.04 374.80L288.34 376.10L286.44 378.00L288.34 379.90L287.04 381.20L285.14 379.30L283.24 381.20L281.94 379.90L283.84 378.00L281.94 376.10L283.24 374.80Z" fill="#984ea3" stroke="#000" stroke-width="0.9"/>
<path d="M295.76 376.70L297.66 374.80L298.96 376.10L297.06 378.00L298.96 379.90L297.66 381.20L295.76 379.30L293.86 381.20L292.56 379.90L294.46 378.00L292.56 376.10L293.86 374.80Z" fill="#984ea3" stroke="#000" stroke-width="0.9"/>
<path d="M306.38 376.70L308.28 374.80L309.58 376.10L307.68 378.00L309.58 379.90L308.28 381.20L306.38 379.30L304.48 381.20L303.18 379.90L305.08 378.00L303.18 376.10L304.48 374.80Z" fill="#984ea3" stroke="#000" stroke-width="0.9"/>
<path d="M317.00 376.30L318.90 374.40L320.20 375.70L318.30 377.60L320.20 379.50L318.90 380.80L317.00 378.90L315.10 380.80L313.80 379.50L315.70 377.60L313.80 375.70L315.10 374.40Z" fill="#984ea3" stroke="#000" stroke-width="0.9"/>
<path d="M327.62 373.90L329.52 372.00L330.82 373.30L328.92 375.20L330.82 377.10L329.52 378.40L327.62 376.50L325.72 378.40L324.42 377.10L326.32 375.20L324.42 373.30L325.72 372.00Z" fill="#984ea3" stroke="#000" stroke-width="0.9"/>
<path d="M338.24 373.90L340.14 372.00L341.44 373.30L339.54 375.20L341.44 377.10L340.14 378.40L338.24 376.50L336.34 378.40L335.04 377.10L336.94 375.20L335.04 373.30L336.34 372.00Z" fill="#984ea3" stroke="#000" stroke-width="0.9"/>
<path d="M348.86 373.90L350.76 372.00L352.06 373.30L350.16 375.20L352.06 377.10L350.76 378.40L348.86 376.50L346.96 378.40L345.66 377.10L347.56 375.20L345.66 373.30L346.96 372.00Z" fill="#984ea3" stroke="#000" stroke-width="0.9"/>
<path d="M359.48 373.20L361.38 371.30L362.68 372.60L360.78 374.50L362.68 376.40L361.38 377.70L359.48 375.80L357.58 377.70L356.28 376.40L358.18 374.50L356.28 372.60L357.58 371.30Z" fill="#984ea3" stroke="#000" stroke-width="0.9"/>
<path d="M370.10 373.20L372.00 371.30L373.30 372.60L371.40 374.50L373.30 376.40L372.00 377.70L370.10 375.80L368.20 377.70L366.90 376.40L368.80 374.50L366.90 372.60L368.20 371.30Z" fill="#984ea3" stroke="#000" stroke-width="0.9"/>
<path d="M380.72 371.70L382.62 369.80L383.92 371.10L382.02 373.00L383.92 374.90L382.62 376.20L380.72 374.30L378.82 376.20L377.52 374.90L379.42 373.00L377.52 371.10L378.82 369.80Z" fill="#984ea3" stroke="#000" stroke-width="0.9"/>
<path d="M391.34 370.70L393.24 368.80L394.54 370.10L392.64 372.00L394.54 373.90L393.24 375.20L391.34 373.30L389.44 375.20L388.14 373.90L390.04 372.00L388.14 370.10L389.44 368.80Z" fill="#984ea3" stroke="#000" stroke-width="0.9"/>
<path d="M401.96 371.00L403.86 369.10L405.16 370.40L403.26 372.30L405.16 374.20L403.86 375.50L401.96 373.60L400.06 375.50L398.76 374.20L400.66 372.30L398.76 370.40L400.06 369.10Z" fill="#984ea3" stroke="#000" stroke-width="0.9"/>
<path d="M412.58 370.60L414.48 368.70L415.78 370.00L413.88 371.90L415.78 373.80L414.48 375.10L412.58 373.20L410.68 375.10L409.38 373.80L411.28 371.90L409.38 370.00L410.68 368.70Z" fill="#984ea3" stroke="#000" stroke-width="0.9"/>
<path d="M423.20 370.60L425.10 368.70L426.40 370.00L424.50 371.90L426.40 373.80L425.10 375.10L423.20 373.20L421.30 375.10L420.00 373.80L421.90 371.90L420.00 370.00L421.30 368.70Z" fill="#984ea3" stroke="#000" stroke-width="0.9"/>
<path d="M433.82 370.00L435.72 368.10L437.02 369.40L435.12 371.30L437.02 373.20L435.72 374.50L433.82 372.60L431.92 374.50L430.62 373.20L432.52 371.30L430.62 369.40L431.92 368.10Z" fill="#984ea3" stroke="#000" stroke-width="0.9"/>
<path d="M444.44 370.00L446.34 368.10L447.64 369.40L445.74 371.30L447.64 373.20L446.34 374.50L444.44 372.60L442.54 374.50L441.24 373.20L443.14 371.30L441.24 369.40L442.54 368.10Z" fill="#984ea3" stroke="#000" stroke-width="0.9"/>
<path d="M455.06 369.20L456.96 367.30L458.26 368.60L456.36 370.50L458.26 372.40L456.96 373.70L455.06 371.80L453.16 373.70L451.86 372.40L453.76 370.50L451.86 368.60L453.16 367.30Z" fill="#984ea3" stroke="#000" stroke-width="0.9"/>
<path d="M465.68 368.50L467.58 366.60L468.88 367.90L466.98 369.80L468.88 371.70L467.58 373.00L465.68 371.10L463.78 373.00L462.48 371.70L464.38 369.80L462.48 367.90L463.78 366.60Z" fill="#984ea3" stroke="#000" stroke-width="0.9"/>
<path d="M476.30 368.40L478.20 366.50L479.50 367.80L477.60 369.70L479.50 371.60L478.20 372.90L476.30 371.00L474.40 372.90L473.10 371.60L475.00 369.70L473.10 367.80L474.40 366.50Z" fill="#984ea3" stroke="#000" stroke-width="0.9"/>
<path d="M486.92 367.70L488.82 365.80L490.12 367.10L488.22 369.00L490.12 370.90L488.82 372.20L486.92 370.30L485.02 372.20L483.72 370.90L485.62 369.00L483.72 367.10L485.02 365.80Z" fill="#984ea3" stroke="#000" stroke-width="0.9"/>
<path d="M497.54 367.50L499.44 365.60L500.74 366.90L498.84 368.80L500.74 370.70L499.44 372.00L497.54 370.10L495.64 372.00L494.34 370.70L496.24 368.80L494.34 366.90L495.64 365.60Z" fill="#984ea3" stroke="#000" stroke-width="0.9"/>
<path d="M508.16 366.30L510.06 364.40L511.36 365.70L509.46 367.60L511.36 369.50L510.06 370.80L508.16 368.90L506.26 370.80L504.96 369.50L506.86 367.60L504.96 365.70L506.26 364.40Z" fill="#984ea3" stroke="#000" stroke-width="0.9"/>
<path d="M518.78 366.40L520.68 364.50L521.98 365.80L520.08 367.70L521.98 369.60L520.68 370.90L518.78 369.00L516.88 370.90L515.58 369.60L517.48 367.70L515.58 365.80L516.88 364.50Z" fill="#984ea3" stroke="#000" stroke-width="0.9"/>
<path d="M529.40 365.70L531.30 363.80L532.60 365.10L530.70 367.00L532.60 368.90L531.30 370.20L529.40 368.30L527.50 370.20L526.20 368.90L528.10 367.00L526.20 365.10L527.50 363.80Z" fill="#984ea3" stroke="#000" stroke-width="0.9"/>
<path d="M540.02 365.10L541.92 363.20L543.22 364.50L541.32 366.40L543.22 368.30L541.92 369.60L540.02 367.70L538.12 369.60L536.82 368.30L538.72 366.40L536.82 364.50L538.12 363.20Z" fill="#984ea3" stroke="#000" stroke-width="0.9"/>
<path d="M550.64 364.50L552.54 362.60L553.84 363.90L551.94 365.80L553.84 367.70L552.54 369.00L550.64 367.10L548.74 369.00L547.44 367.70L549.34 365.80L547.44 363.90L548.74 362.60Z" fill="#984ea3" stroke="#000" stroke-width="0.9"/>
<path d="M561.26 364.50L563.16 362.60L564.46 363.90L562.56 365.80L564.46 367.70L563.16 369.00L561.26 367.10L559.36 369.00L558.06 367.70L559.96 365.80L558.06 363.90L559.36 362.60Z" fill="#984ea3" stroke="#000" stroke-width="0.9"/>
<path d="M571.88 363.60L573.78 361.70L575.08 363.00L573.18 364.90L575.08 366.80L573.78 368.10L571.88 366.20L569.98 368.10L568.68 366.80L570.58 364.90L568.68 363.00L569.98 361.70Z" fill="#984ea3" stroke="#000" stroke-width="0.9"/>
<path d="M582.50 363.60L584.40 361.70L585.70 363.00L583.80 364.90L585.70 366.80L584.40 368.10L582.50 366.20L580.60 368.10L579.30 366.80L581.20 364.90L579.30 363.00L580.60 361.70Z" fill="#984ea3" stroke="#000" stroke-width="0.9"/>
<polyline points="62.12,432.00 72.74,432.90 83.36,433.20 93.98,432.00 104.60,432.00 115.22,430.40 125.84,430.00 136.46,431.10 147.08,431.10 157.70,430.00 168.32,428.80 178.94,430.00 189.56,428.80 200.18,430.00 210.80,428.80 221.42,428.80 232.04,427.60 242.66,426.40 253.28,424.10 263.90,425.30 274.52,425.30 285.14,425.30 295.76,424.10 306.38,424.10 317.00,424.10 327.62,425.00 338.24,423.40 348.86,423.40 359.48,423.40 370.10,423.40 380.72,423.40 391.34,420.50 401.96,420.50 412.58,422.20 423.20,420.30 433.82,419.80 444.44,418.50 455.06,420.00 465.68,417.50 476.30,417.50 486.92,418.30 497.54,417.50 508.16,416.60 518.78,417.00 529.40,416.60 540.02,415.10 550.64,415.10 561.26,415.10 571.88,413.50 582.50,413.50" fill="none" stroke="#4daf4a" stroke-width="2.0" stroke-linejoin="round"/>
<rect x="59.12" y="429.00" width="6.00" height="6.00" rx="0.8" fill="#4daf4a" stroke="#123a12" stroke-width="0.9"/>
<rect x="69.74" y="429.90" width="6.00" height="6.00" rx="0.8" fill="#4daf4a" stroke="#123a12" stroke-width="0.9"/>
<rect x="80.36" y="430.20" width="6.00" height="6.00" rx="0.8" fill="#4daf4a" stroke="#123a12" stroke-width="0.9"/>
<rect x="90.98" y="429.00" width="6.00" height="6.00" rx="0.8" fill="#4daf4a" stroke="#123a12" stroke-width="0.9"/>
<rect x="101.60" y="429.00" width="6.00" height="6.00" rx="0.8" fill="#4daf4a" stroke="#123a12" stroke-width="0.9"/>
<rect x="112.22" y="427.40" width="6.00" height="6.00" rx="0.8" fill="#4daf4a" stroke="#123a12" stroke-width="0.9"/>
<rect x="122.84" y="427.00" width="6.00" height="6.00" rx="0.8" fill="#4daf4a" stroke="#123a12" stroke-width="0.9"/>
<rect x="133.46" y="428.10" width="6.00" height="6.00" rx="0.8" fill="#4daf4a" stroke="#123a12" stroke-width="0.9"/>
<rect x="144.08" y="428.10" width="6.00" height="6.00" rx="0.8" fill="#4daf4a" stroke="#123a12" stroke-width="0.9"/>
<rect x="154.70" y="427.00" width="6.00" height="6.00" rx="0.8" fill="#4daf4a" stroke="#123a12" stroke-width="0.9"/>
<rect x="165.32" y="425.80" width="6.00" height="6.00" rx="0.8" fill="#4daf4a" stroke="#123a12" stroke-width="0.9"/>
<rect x="175.94" y="427.00" width="6.00" height="6.00" rx="0.8" fill="#4daf4a" stroke="#123a12" stroke-width="0.9"/>
<rect x="186.56" y="425.80" width="6.00" height="6.00" rx="0.8" fill="#4daf4a" stroke="#123a12" stroke-width="0.9"/>
<rect x="197.18" y="427.00" width="6.00" height="6.00" rx="0.8" fill="#4daf4a" stroke="#123a12" stroke-width="0.9"/>
<rect x="207.80" y="425.80" width="6.00" height="6.00" rx="0.8" fill="#4daf4a" stroke="#123a12" stroke-width="0.9"/>
<rect x="218.42" y="425.80" width="6.00" height="6.00" rx="0.8" fill="#4daf4a" stroke="#123a12" stroke-width="0.9"/>
<rect x="229.04" y="424.60" width="6.00" height="6.00" rx="0.8" fill="#4daf4a" stroke="#123a12" stroke-width="0.9"/>
<rect x="239.66" y="423.40" width="6.00" height="6.00" rx="0.8" fill="#4daf4a" stroke="#123a12" stroke-width="0.9"/>
<rect x="250.28" y="421.10" width="6.00" height="6.00" rx="0.8" fill="#4daf4a" stroke="#123a12" stroke-width="0.9"/>
<rect x="260.90" y="422.30" width="6.00" height="6.00" rx="0.8" fill="#4daf4a" stroke="#123a12" stroke-width="0.9"/>
<rect x="271.52" y="422.30" width="6.00" height="6.00" rx="0.8" fill="#4daf4a" stroke="#123a12" stroke-width="0.9"/>
<rect x="282.14" y="422.30" width="6.00" height="6.00" rx="0.8" fill="#4daf4a" stroke="#123a12" stroke-width="0.9"/>
<rect x="292.76" y="421.10" width="6.00" height="6.00" rx="0.8" fill="#4daf4a" stroke="#123a12" stroke-width="0.9"/>
<rect x="303.38" y="421.10" width="6.00" height="6.00" rx="0.8" fill="#4daf4a" stroke="#123a12" stroke-width="0.9"/>
<rect x="314.00" y="421.10" width="6.00" height="6.00" rx="0.8" fill="#4daf4a" stroke="#123a12" stroke-width="0.9"/>
<rect x="324.62" y="422.00" width="6.00" height="6.00" rx="0.8" fill="#4daf4a" stroke="#123a12" stroke-width="0.9"/>
<rect x="335.24" y="420.40" width="6.00" height="6.00" rx="0.8" fill="#4daf4a" stroke="#123a12" stroke-width="0.9"/>
<rect x="345.86" y="420.40" width="6.00" height="6.00" rx="0.8" fill="#4daf4a" stroke="#123a12" stroke-width="0.9"/>
<rect x="356.48" y="420.40" width="6.00" height="6.00" rx="0.8" fill="#4daf4a" stroke="#123a12" stroke-width="0.9"/>
<rect x="367.10" y="420.40" width="6.00" height="6.00" rx="0.8" fill="#4daf4a" stroke="#123a12" stroke-width="0.9"/>
<rect x="377.72" y="420.40" width="6.00" height="6.00" rx="0.8" fill="#4daf4a" stroke="#123a12" stroke-width="0.9"/>
<rect x="388.34" y="417.50" width="6.00" height="6.00" rx="0.8" fill="#4daf4a" stroke="#123a12" stroke-width="0.9"/>
<rect x="398.96" y="417.50" width="6.00" height="6.00" rx="0.8" fill="#4daf4a" stroke="#123a12" stroke-width="0.9"/>
<rect x="409.58" y="419.20" width="6.00" height="6.00" rx="0.8" fill="#4daf4a" stroke="#123a12" stroke-width="0.9"/>
<rect x="420.20" y="417.30" width="6.00" height="6.00" rx="0.8" fill="#4daf4a" stroke="#123a12" stroke-width="0.9"/>
<rect x="430.82" y="416.80" width="6.00" height="6.00" rx="0.8" fill="#4daf4a" stroke="#123a12" stroke-width="0.9"/>
<rect x="441.44" y="415.50" width="6.00" height="6.00" rx="0.8" fill="#4daf4a" stroke="#123a12" stroke-width="0.9"/>
<rect x="452.06" y="417.00" width="6.00" height="6.00" rx="0.8" fill="#4daf4a" stroke="#123a12" stroke-width="0.9"/>
<rect x="462.68" y="414.50" width="6.00" height="6.00" rx="0.8" fill="#4daf4a" stroke="#123a12" stroke-width="0.9"/>
<rect x="473.30" y="414.50" width="6.00" height="6.00" rx="0.8" fill="#4daf4a" stroke="#123a12" stroke-width="0.9"/>
<rect x="483.92" y="415.30" width="6.00" height="6.00" rx="0.8" fill="#4daf4a" stroke="#123a12" stroke-width="0.9"/>
<rect x="494.54" y="414.50" width="6.00" height="6.00" rx="0.8" fill="#4daf4a" stroke="#123a12" stroke-width="0.9"/>
<rect x="505.16" y="413.60" width="6.00" height="6.00" rx="0.8" fill="#4daf4a" stroke="#123a12" stroke-width="0.9"/>
<rect x="515.78" y="414.00" width="6.00" height="6.00" rx="0.8" fill="#4daf4a" stroke="#123a12" stroke-width="0.9"/>
<rect x="526.40" y="413.60" width="6.00" height="6.00" rx="0.8" fill="#4daf4a" stroke="#123a12" stroke-width="0.9"/>
<rect x="537.02" y="412.10" width="6.00" height="6.00" rx="0.8" fill="#4daf4a" stroke="#123a12" stroke-width="0.9"/>
<rect x="547.64" y="412.10" width="6.00" height="6.00" rx="0.8" fill="#4daf4a" stroke="#123a12" stroke-width="0.9"/>
<rect x="558.26" y="412.10" width="6.00" height="6.00" rx="0.8" fill="#4daf4a" stroke="#123a12" stroke-width="0.9"/>
<rect x="568.88" y="410.50" width="6.00" height="6.00" rx="0.8" fill="#4daf4a" stroke="#123a12" stroke-width="0.9"/>
<rect x="579.50" y="410.50" width="6.00" height="6.00" rx="0.8" fill="#4daf4a" stroke="#123a12" stroke-width="0.9"/>
<polyline points="62.12,539.50 72.74,502.00 83.36,502.00 93.98,539.50 104.60,539.50 115.22,502.00 125.84,539.50 136.46,502.00 147.08,539.50 157.70,502.00 168.32,539.50 178.94,539.50 189.56,502.00 200.18,502.00 210.80,539.50 221.42,502.00 232.04,539.50 242.66,539.50 253.28,539.50 263.90,539.50 274.52,502.00 285.14,539.50 295.76,539.50 306.38,502.00 317.00,502.00 327.62,502.00 338.24,539.50 348.86,539.50 359.48,539.50 370.10,539.50 380.72,539.50 391.34,539.50 401.96,539.50 412.58,502.00 423.20,539.50 433.82,502.00 444.44,539.50 455.06,539.50 465.68,539.50 476.30,539.50 486.92,539.50 497.54,502.00 508.16,539.50 518.78,539.50 529.40,502.00 540.02,539.50 550.64,502.00 561.26,539.50 571.88,502.00 582.50,502.00" fill="none" stroke="#2f6fa6" stroke-width="2.0" stroke-linejoin="round"/>
<path d="M62.12 535.50L66.12 539.50L62.12 543.50L58.12 539.50Z" fill="#377eb8" stroke="#10253a" stroke-width="0.9"/>
<path d="M72.74 498.00L76.74 502.00L72.74 506.00L68.74 502.00Z" fill="#377eb8" stroke="#10253a" stroke-width="0.9"/>
<path d="M83.36 498.00L87.36 502.00L83.36 506.00L79.36 502.00Z" fill="#377eb8" stroke="#10253a" stroke-width="0.9"/>
<path d="M93.98 535.50L97.98 539.50L93.98 543.50L89.98 539.50Z" fill="#377eb8" stroke="#10253a" stroke-width="0.9"/>
<path d="M104.60 535.50L108.60 539.50L104.60 543.50L100.60 539.50Z" fill="#377eb8" stroke="#10253a" stroke-width="0.9"/>
<path d="M115.22 498.00L119.22 502.00L115.22 506.00L111.22 502.00Z" fill="#377eb8" stroke="#10253a" stroke-width="0.9"/>
<path d="M125.84 535.50L129.84 539.50L125.84 543.50L121.84 539.50Z" fill="#377eb8" stroke="#10253a" stroke-width="0.9"/>
<path d="M136.46 498.00L140.46 502.00L136.46 506.00L132.46 502.00Z" fill="#377eb8" stroke="#10253a" stroke-width="0.9"/>
<path d="M147.08 535.50L151.08 539.50L147.08 543.50L143.08 539.50Z" fill="#377eb8" stroke="#10253a" stroke-width="0.9"/>
<path d="M157.70 498.00L161.70 502.00L157.70 506.00L153.70 502.00Z" fill="#377eb8" stroke="#10253a" stroke-width="0.9"/>
<path d="M168.32 535.50L172.32 539.50L168.32 543.50L164.32 539.50Z" fill="#377eb8" stroke="#10253a" stroke-width="0.9"/>
<path d="M178.94 535.50L182.94 539.50L178.94 543.50L174.94 539.50Z" fill="#377eb8" stroke="#10253a" stroke-width="0.9"/>
<path d="M189.56 498.00L193.56 502.00L189.56 506.00L185.56 502.00Z" fill="#377eb8" stroke="#10253a" stroke-width="0.9"/>
<path d="M200.18 498.00L204.18 502.00L200.18 506.00L196.18 502.00Z" fill="#377eb8" stroke="#10253a" stroke-width="0.9"/>
<path d="M210.80 535.50L214.80 539.50L210.80 543.50L206.80 539.50Z" fill="#377eb8" stroke="#10253a" stroke-width="0.9"/>
<path d="M221.42 498.00L225.42 502.00L221.42 506.00L217.42 502.00Z" fill="#377eb8" stroke="#10253a" stroke-width="0.9"/>
<path d="M232.04 535.50L236.04 539.50L232.04 543.50L228.04 539.50Z" fill="#377eb8" stroke="#10253a" stroke-width="0.9"/>
<path d="M242.66 535.50L246.66 539.50L242.66 543.50L238.66 539.50Z" fill="#377eb8" stroke="#10253a" stroke-width="0.9"/>
<path d="M253.28 535.50L257.28 539.50L253.28 543.50L249.28 539.50Z" fill="#377eb8" stroke="#10253a" stroke-width="0.9"/>
<path d="M263.90 535.50L267.90 539.50L263.90 543.50L259.90 539.50Z" fill="#377eb8" stroke="#10253a" stroke-width="0.9"/>
<path d="M274.52 498.00L278.52 502.00L274.52 506.00L270.52 502.00Z" fill="#377eb8" stroke="#10253a" stroke-width="0.9"/>
<path d="M285.14 535.50L289.14 539.50L285.14 543.50L281.14 539.50Z" fill="#377eb8" stroke="#10253a" stroke-width="0.9"/>
<path d="M295.76 535.50L299.76 539.50L295.76 543.50L291.76 539.50Z" fill="#377eb8" stroke="#10253a" stroke-width="0.9"/>
<path d="M306.38 498.00L310.38 502.00L306.38 506.00L302.38 502.00Z" fill="#377eb8" stroke="#10253a" stroke-width="0.9"/>
<path d="M317.00 498.00L321.00 502.00L317.00 506.00L313.00 502.00Z" fill="#377eb8" stroke="#10253a" stroke-width="0.9"/>
<path d="M327.62 498.00L331.62 502.00L327.62 506.00L323.62 502.00Z" fill="#377eb8" stroke="#10253a" stroke-width="0.9"/>
<path d="M338.24 535.50L342.24 539.50L338.24 543.50L334.24 539.50Z" fill="#377eb8" stroke="#10253a" stroke-width="0.9"/>
<path d="M348.86 535.50L352.86 539.50L348.86 543.50L344.86 539.50Z" fill="#377eb8" stroke="#10253a" stroke-width="0.9"/>
<path d="M359.48 535.50L363.48 539.50L359.48 543.50L355.48 539.50Z" fill="#377eb8" stroke="#10253a" stroke-width="0.9"/>
<path d="M370.10 535.50L374.10 539.50L370.10 543.50L366.10 539.50Z" fill="#377eb8" stroke="#10253a" stroke-width="0.9"/>
<path d="M380.72 535.50L384.72 539.50L380.72 543.50L376.72 539.50Z" fill="#377eb8" stroke="#10253a" stroke-width="0.9"/>
<path d="M391.34 535.50L395.34 539.50L391.34 543.50L387.34 539.50Z" fill="#377eb8" stroke="#10253a" stroke-width="0.9"/>
<path d="M401.96 535.50L405.96 539.50L401.96 543.50L397.96 539.50Z" fill="#377eb8" stroke="#10253a" stroke-width="0.9"/>
<path d="M412.58 498.00L416.58 502.00L412.58 506.00L408.58 502.00Z" fill="#377eb8" stroke="#10253a" stroke-width="0.9"/>
<path d="M423.20 535.50L427.20 539.50L423.20 543.50L419.20 539.50Z" fill="#377eb8" stroke="#10253a" stroke-width="0.9"/>
<path d="M433.82 498.00L437.82 502.00L433.82 506.00L429.82 502.00Z" fill="#377eb8" stroke="#10253a" stroke-width="0.9"/>
<path d="M444.44 535.50L448.44 539.50L444.44 543.50L440.44 539.50Z" fill="#377eb8" stroke="#10253a" stroke-width="0.9"/>
<path d="M455.06 535.50L459.06 539.50L455.06 543.50L451.06 539.50Z" fill="#377eb8" stroke="#10253a" stroke-width="0.9"/>
<path d="M465.68 535.50L469.68 539.50L465.68 543.50L461.68 539.50Z" fill="#377eb8" stroke="#10253a" stroke-width="0.9"/>
<path d="M476.30 535.50L480.30 539.50L476.30 543.50L472.30 539.50Z" fill="#377eb8" stroke="#10253a" stroke-width="0.9"/>
<path d="M486.92 535.50L490.92 539.50L486.92 543.50L482.92 539.50Z" fill="#377eb8" stroke="#10253a" stroke-width="0.9"/>
<path d="M497.54 498.00L501.54 502.00L497.54 506.00L493.54 502.00Z" fill="#377eb8" stroke="#10253a" stroke-width="0.9"/>
<path d="M508.16 535.50L512.16 539.50L508.16 543.50L504.16 539.50Z" fill="#377eb8" stroke="#10253a" stroke-width="0.9"/>
<path d="M518.78 535.50L522.78 539.50L518.78 543.50L514.78 539.50Z" fill="#377eb8" stroke="#10253a" stroke-width="0.9"/>
<path d="M529.40 498.00L533.40 502.00L529.40 506.00L525.40 502.00Z" fill="#377eb8" stroke="#10253a" stroke-width="0.9"/>
<path d="M540.02 535.50L544.02 539.50L540.02 543.50L536.02 539.50Z" fill="#377eb8" stroke="#10253a" stroke-width="0.9"/>
<path d="M550.64 498.00L554.64 502.00L550.64 506.00L546.64 502.00Z" fill="#377eb8" stroke="#10253a" stroke-width="0.9"/>
<path d="M561.26 535.50L565.26 539.50L561.26 543.50L557.26 539.50Z" fill="#377eb8" stroke="#10253a" stroke-width="0.9"/>
<path d="M571.88 498.00L575.88 502.00L571.88 506.00L567.88 502.00Z" fill="#377eb8" stroke="#10253a" stroke-width="0.9"/>
<path d="M582.50 498.00L586.50 502.00L582.50 506.00L578.50 502.00Z" fill="#377eb8" stroke="#10253a" stroke-width="0.9"/>
<polyline points="62.12,375.10 72.74,375.50 83.36,375.50 93.98,375.80 104.60,374.60 115.22,373.80 125.84,372.50 136.46,370.80 147.08,370.10 157.70,369.70 168.32,369.00 178.94,368.90 189.56,368.50 200.18,368.50 210.80,368.50 221.42,368.00 232.04,367.30 242.66,367.30 253.28,366.50 263.90,365.70 274.52,365.70 285.14,365.70 295.76,364.30 306.38,363.80 317.00,363.40 327.62,362.70 338.24,362.00 348.86,362.00 359.48,361.00 370.10,361.00 380.72,359.00 391.34,358.00 401.96,354.90 412.58,352.30 423.20,350.60 433.82,348.00 444.44,346.00 455.06,345.00 465.68,344.00 476.30,343.80 486.92,343.00 497.54,342.80 508.16,342.50 518.78,341.80 529.40,341.50 540.02,340.60 550.64,340.40 561.26,339.70 571.88,338.40 582.50,338.40" fill="none" stroke="#b81419" stroke-width="2.0" stroke-linejoin="round"/>
<circle cx="62.12" cy="375.10" r="2.70" fill="#e41a1c" stroke="#3a0808" stroke-width="0.9"/>
<circle cx="72.74" cy="375.50" r="2.70" fill="#e41a1c" stroke="#3a0808" stroke-width="0.9"/>
<circle cx="83.36" cy="375.50" r="2.70" fill="#e41a1c" stroke="#3a0808" stroke-width="0.9"/>
<circle cx="93.98" cy="375.80" r="2.70" fill="#e41a1c" stroke="#3a0808" stroke-width="0.9"/>
<circle cx="104.60" cy="374.60" r="2.70" fill="#e41a1c" stroke="#3a0808" stroke-width="0.9"/>
<circle cx="115.22" cy="373.80" r="2.70" fill="#e41a1c" stroke="#3a0808" stroke-width="0.9"/>
<circle cx="125.84" cy="372.50" r="2.70" fill="#e41a1c" stroke="#3a0808" stroke-width="0.9"/>
<circle cx="136.46" cy="370.80" r="2.70" fill="#e41a1c" stroke="#3a0808" stroke-width="0.9"/>
<circle cx="147.08" cy="370.10" r="2.70" fill="#e41a1c" stroke="#3a0808" stroke-width="0.9"/>
<circle cx="157.70" cy="369.70" r="2.70" fill="#e41a1c" stroke="#3a0808" stroke-width="0.9"/>
<circle cx="168.32" cy="369.00" r="2.70" fill="#e41a1c" stroke="#3a0808" stroke-width="0.9"/>
<circle cx="178.94" cy="368.90" r="2.70" fill="#e41a1c" stroke="#3a0808" stroke-width="0.9"/>
<circle cx="189.56" cy="368.50" r="2.70" fill="#e41a1c" stroke="#3a0808" stroke-width="0.9"/>
<circle cx="200.18" cy="368.50" r="2.70" fill="#e41a1c" stroke="#3a0808" stroke-width="0.9"/>
<circle cx="210.80" cy="368.50" r="2.70" fill="#e41a1c" stroke="#3a0808" stroke-width="0.9"/>
<circle cx="221.42" cy="368.00" r="2.70" fill="#e41a1c" stroke="#3a0808" stroke-width="0.9"/>
<circle cx="232.04" cy="367.30" r="2.70" fill="#e41a1c" stroke="#3a0808" stroke-width="0.9"/>
<circle cx="242.66" cy="367.30" r="2.70" fill="#e41a1c" stroke="#3a0808" stroke-width="0.9"/>
<circle cx="253.28" cy="366.50" r="2.70" fill="#e41a1c" stroke="#3a0808" stroke-width="0.9"/>
<circle cx="263.90" cy="365.70" r="2.70" fill="#e41a1c" stroke="#3a0808" stroke-width="0.9"/>
<circle cx="274.52" cy="365.70" r="2.70" fill="#e41a1c" stroke="#3a0808" stroke-width="0.9"/>
<circle cx="285.14" cy="365.70" r="2.70" fill="#e41a1c" stroke="#3a0808" stroke-width="0.9"/>
<circle cx="295.76" cy="364.30" r="2.70" fill="#e41a1c" stroke="#3a0808" stroke-width="0.9"/>
<circle cx="306.38" cy="363.80" r="2.70" fill="#e41a1c" stroke="#3a0808" stroke-width="0.9"/>
<circle cx="317.00" cy="363.40" r="2.70" fill="#e41a1c" stroke="#3a0808" stroke-width="0.9"/>
<circle cx="327.62" cy="362.70" r="2.70" fill="#e41a1c" stroke="#3a0808" stroke-width="0.9"/>
<circle cx="338.24" cy="362.00" r="2.70" fill="#e41a1c" stroke="#3a0808" stroke-width="0.9"/>
<circle cx="348.86" cy="362.00" r="2.70" fill="#e41a1c" stroke="#3a0808" stroke-width="0.9"/>
<circle cx="359.48" cy="361.00" r="2.70" fill="#e41a1c" stroke="#3a0808" stroke-width="0.9"/>
<circle cx="370.10" cy="361.00" r="2.70" fill="#e41a1c" stroke="#3a0808" stroke-width="0.9"/>
<circle cx="380.72" cy="359.00" r="2.70" fill="#e41a1c" stroke="#3a0808" stroke-width="0.9"/>
<circle cx="391.34" cy="358.00" r="2.70" fill="#e41a1c" stroke="#3a0808" stroke-width="0.9"/>
<circle cx="401.96" cy="354.90" r="2.70" fill="#e41a1c" stroke="#3a0808" stroke-width="0.9"/>
<circle cx="412.58" cy="352.30" r="2.70" fill="#e41a1c" stroke="#3a0808" stroke-width="0.9"/>
<circle cx="423.20" cy="350.60" r="2.70" fill="#e41a1c" stroke="#3a0808" stroke-width="0.9"/>
<circle cx="433.82" cy="348.00" r="2.70" fill="#e41a1c" stroke="#3a0808" stroke-width="0.9"/>
<circle cx="444.44" cy="346.00" r="2.70" fill="#e41a1c" stroke="#3a0808" stroke-width="0.9"/>
<circle cx="455.06" cy="345.00" r="2.70" fill="#e41a1c" stroke="#3a0808" stroke-width="0.9"/>
<circle cx="465.68" cy="344.00" r="2.70" fill="#e41a1c" stroke="#3a0808" stroke-width="0.9"/>
<circle cx="476.30" cy="343.80" r="2.70" fill="#e41a1c" stroke="#3a0808" stroke-width="0.9"/>
<circle cx="486.92" cy="343.00" r="2.70" fill="#e41a1c" stroke="#3a0808" stroke-width="0.9"/>
<circle cx="497.54" cy="342.80" r="2.70" fill="#e41a1c" stroke="#3a0808" stroke-width="0.9"/>
<circle cx="508.16" cy="342.50" r="2.70" fill="#e41a1c" stroke="#3a0808" stroke-width="0.9"/>
<circle cx="518.78" cy="341.80" r="2.70" fill="#e41a1c" stroke="#3a0808" stroke-width="0.9"/>
<circle cx="529.40" cy="341.50" r="2.70" fill="#e41a1c" stroke="#3a0808" stroke-width="0.9"/>
<circle cx="540.02" cy="340.60" r="2.70" fill="#e41a1c" stroke="#3a0808" stroke-width="0.9"/>
<circle cx="550.64" cy="340.40" r="2.70" fill="#e41a1c" stroke="#3a0808" stroke-width="0.9"/>
<circle cx="561.26" cy="339.70" r="2.70" fill="#e41a1c" stroke="#3a0808" stroke-width="0.9"/>
<circle cx="571.88" cy="338.40" r="2.70" fill="#e41a1c" stroke="#3a0808" stroke-width="0.9"/>
<circle cx="582.50" cy="338.40" r="2.70" fill="#e41a1c" stroke="#3a0808" stroke-width="0.9"/>
</g>
<rect x="51.5" y="7.5" width="531.0" height="532.0" fill="none" stroke="#404040" stroke-width="1.1"/><path d="M51.50 539.5V530.5M51.50 7.5V16.5" stroke="#404040" stroke-width="1"/><path d="M72.50 539.5V534.5M72.50 7.5V12.5" stroke="#404040" stroke-width="1"/><path d="M93.50 539.5V534.5M93.50 7.5V12.5" stroke="#404040" stroke-width="1"/><path d="M115.50 539.5V534.5M115.50 7.5V12.5" stroke="#404040" stroke-width="1"/><path d="M136.50 539.5V534.5M136.50 7.5V12.5" stroke="#404040" stroke-width="1"/><path d="M157.50 539.5V530.5M157.50 7.5V16.5" stroke="#404040" stroke-width="1"/><path d="M178.50 539.5V534.5M178.50 7.5V12.5" stroke="#404040" stroke-width="1"/><path d="M200.50 539.5V534.5M200.50 7.5V12.5" stroke="#404040" stroke-width="1"/><path d="M221.50 539.5V534.5M221.50 7.5V12.5" stroke="#404040" stroke-width="1"/><path d="M242.50 539.5V534.5M242.50 7.5V12.5" stroke="#404040" stroke-width="1"/><path d="M263.50 539.5V530.5M263.50 7.5V16.5" stroke="#404040" stroke-width="1"/><path d="M285.50 539.5V534.5M285.50 7.5V12.5" stroke="#404040" stroke-width="1"/><path d="M306.50 539.5V534.5M306.50 7.5V12.5" stroke="#404040" stroke-width="1"/><path d="M327.50 539.5V534.5M327.50 7.5V12.5" stroke="#404040" stroke-width="1"/><path d="M348.50 539.5V534.5M348.50 7.5V12.5" stroke="#404040" stroke-width="1"/><path d="M370.50 539.5V530.5M370.50 7.5V16.5" stroke="#404040" stroke-width="1"/><path d="M391.50 539.5V534.5M391.50 7.5V12.5" stroke="#404040" stroke-width="1"/><path d="M412.50 539.5V534.5M412.50 7.5V12.5" stroke="#404040" stroke-width="1"/><path d="M433.50 539.5V534.5M433.50 7.5V12.5" stroke="#404040" stroke-width="1"/><path d="M455.50 539.5V534.5M455.50 7.5V12.5" stroke="#404040" stroke-width="1"/><path d="M476.50 539.5V530.5M476.50 7.5V16.5" stroke="#404040" stroke-width="1"/><path d="M497.50 539.5V534.5M497.50 7.5V12.5" stroke="#404040" stroke-width="1"/><path d="M518.50 539.5V534.5M518.50 7.5V12.5" stroke="#404040" stroke-width="1"/><path d="M540.50 539.5V534.5M540.50 7.5V12.5" stroke="#404040" stroke-width="1"/><path d="M561.50 539.5V534.5M561.50 7.5V12.5" stroke="#404040" stroke-width="1"/><path d="M582.50 539.5V530.5M582.50 7.5V16.5" stroke="#404040" stroke-width="1"/><path d="M51.5 304.50H56.0M582.5 304.50H578.0" stroke="#404040" stroke-width="1"/><path d="M51.5 243.50H56.0M582.5 243.50H578.0" stroke="#404040" stroke-width="1"/><path d="M51.5 200.50H56.0M582.5 200.50H578.0" stroke="#404040" stroke-width="1"/><path d="M51.5 166.50H60.5M582.5 166.50H573.5" stroke="#404040" stroke-width="1"/><path d="M51.5 137.50H56.0M582.5 137.50H578.0" stroke="#404040" stroke-width="1"/><path d="M51.5 112.50H60.5M582.5 112.50H573.5" stroke="#404040" stroke-width="1"/><path d="M51.5 90.50H56.0M582.5 90.50H578.0" stroke="#404040" stroke-width="1"/><path d="M51.5 69.50H60.5M582.5 69.50H573.5" stroke="#404040" stroke-width="1"/><path d="M51.5 50.50H56.0M582.5 50.50H578.0" stroke="#404040" stroke-width="1"/><path d="M51.5 33.50H60.5M582.5 33.50H573.5" stroke="#404040" stroke-width="1"/><path d="M51.5 16.50H56.0M582.5 16.50H578.0" stroke="#404040" stroke-width="1"/>
<text x="51.50" y="561" font-size="19.5" text-anchor="middle">0</text><text x="157.70" y="561" font-size="19.5" text-anchor="middle">100</text><text x="263.90" y="561" font-size="19.5" text-anchor="middle">200</text><text x="370.10" y="561" font-size="19.5" text-anchor="middle">300</text><text x="476.30" y="561" font-size="19.5" text-anchor="middle">400</text><text x="576.50" y="561" font-size="19.5" text-anchor="middle">500</text><text x="46" y="546.30" font-size="19.5" text-anchor="end">0</text><text x="46" y="173.30" font-size="19.5" text-anchor="end">1</text><text x="46" y="119.32" font-size="19.5" text-anchor="end">1.5</text><text x="46" y="76.35" font-size="19.5" text-anchor="end">2</text><text x="46" y="40.06" font-size="19.5" text-anchor="end">2.5</text><text x="317" y="586" font-size="19.5" text-anchor="middle">Precision</text><text transform="translate(18,273) rotate(-90)" font-size="19.5" text-anchor="middle">Time(s)</text>
<path d="M345.50 69.70H365.50" stroke="#b81419" stroke-width="1.9"/><circle cx="355.50" cy="69.70" r="2.70" fill="#e41a1c" stroke="#3a0808" stroke-width="0.9"/><text x="389.00" y="76.70" font-size="21.5">f<tspan font-size="11.5" dy="2.0" dx="-1.4">1</tspan></text><path d="M345.50 92.10H365.50" stroke="#2f6fa6" stroke-width="1.9"/><path d="M355.50 88.10L359.50 92.10L355.50 96.10L351.50 92.10Z" fill="#377eb8" stroke="#10253a" stroke-width="0.9"/><text x="389.00" y="99.10" font-size="21.5">f<tspan font-size="11.5" dy="2.0" dx="-1.4">2</tspan></text><path d="M345.50 114.50H365.50" stroke="#4daf4a" stroke-width="1.9"/><rect x="352.50" y="111.50" width="6.00" height="6.00" rx="0.8" fill="#4daf4a" stroke="#123a12" stroke-width="0.9"/><text x="389.00" y="121.50" font-size="21.5">f<tspan font-size="11.5" dy="2.0" dx="-1.4">3</tspan></text><path d="M345.50 136.90H365.50" stroke="#984ea3" stroke-width="1.9"/><path d="M355.50 135.60L357.40 133.70L358.70 135.00L356.80 136.90L358.70 138.80L357.40 140.10L355.50 138.20L353.60 140.10L352.30 138.80L354.20 136.90L352.30 135.00L353.60 133.70Z" fill="#984ea3" stroke="#000" stroke-width="0.9"/><text x="389.00" y="143.90" font-size="21.5">f<tspan font-size="11.5" dy="2.0" dx="-1.4">4</tspan></text><path d="M345.50 159.30H365.50" stroke="#ff7f00" stroke-width="1.9"/><path d="M354.30 156.00L356.70 156.00L356.70 158.10L358.80 158.10L358.80 160.50L356.70 160.50L356.70 162.60L354.30 162.60L354.30 160.50L352.20 160.50L352.20 158.10L354.30 158.10Z" fill="#ff7f00" stroke="#000" stroke-width="0.9"/><text x="389.00" y="166.30" font-size="21.5">f<tspan font-size="11.5" dy="2.0" dx="-1.4">5</tspan></text><path d="M428.00 69.70H448.00" stroke="#b06838" stroke-width="1.9"/><path d="M438.00 66.20L438.85 68.53L441.33 68.62L439.38 70.15L440.06 72.53L438.00 71.15L435.94 72.53L436.62 70.15L434.67 68.62L437.15 68.53Z" fill="#a65628" stroke="#000" stroke-width="0.9"/><text x="471.50" y="76.70" font-size="21.5">f<tspan font-size="11.5" dy="2.0" dx="-1.4">6</tspan></text><path d="M428.00 92.10H448.00" stroke="#f781bf" stroke-width="1.9"/><rect x="435.20" y="90.60" width="5.60" height="3.00" rx="0.8" fill="#f781bf" stroke="#5a1040" stroke-width="0.9"/><text x="471.50" y="99.10" font-size="21.5">f<tspan font-size="11.5" dy="2.0" dx="-1.4">7</tspan></text><path d="M428.00 114.50H448.00" stroke="#999999" stroke-width="1.9"/><path d="M435.40 111.90L440.60 111.90L435.40 117.10L440.60 117.10Z" fill="#999999" stroke="#000" stroke-width="0.9"/><text x="471.50" y="121.50" font-size="21.5">f<tspan font-size="11.5" dy="2.0" dx="-1.4">8</tspan></text><path d="M428.00 136.90H448.00" stroke="#66c2a5" stroke-width="1.9"/><path d="M438.00 133.70L441.20 139.30L434.80 139.30Z" fill="#66c2a5" stroke="#000" stroke-width="0.9"/><text x="471.50" y="143.90" font-size="21.5">f<tspan font-size="11.5" dy="2.0" dx="-1.4">9</tspan></text><path d="M428.00 159.30H448.00" stroke="#fc8d62" stroke-width="1.9"/><path d="M434.80 159.30L440.40 156.10L440.40 162.50Z" fill="#fc8d62" stroke="#000" stroke-width="0.9"/><text x="471.50" y="166.30" font-size="21.5">f<tspan font-size="11.5" dy="2.0" dx="-1.4">10</tspan></text><path d="M510.50 69.70H530.50" stroke="#8da0cb" stroke-width="1.9"/><ellipse cx="520.50" cy="69.70" rx="1.60" ry="3.40" fill="#8da0cb" stroke="#000" stroke-width="0.9"/><text x="554.00" y="76.70" font-size="21.5">f<tspan font-size="11.5" dy="2.0" dx="-1.4">11</tspan></text><path d="M510.50 92.10H530.50" stroke="#e78ac3" stroke-width="1.9"/><path d="M517.40 89.00Q520.50 92.10 523.60 89.00Q520.50 92.10 523.60 95.20Q520.50 92.10 517.40 95.20Q520.50 92.10 517.40 89.00Z" fill="#e78ac3" stroke="#000" stroke-width="0.9"/><text x="554.00" y="99.10" font-size="21.5">f<tspan font-size="11.5" dy="2.0" dx="-1.4">12</tspan></text><path d="M510.50 114.50H530.50" stroke="#a6d854" stroke-width="1.9"/><path d="M520.50 113.50L522.30 111.70L523.30 112.70L521.50 114.50L523.30 116.30L522.30 117.30L520.50 115.50L518.70 117.30L517.70 116.30L519.50 114.50L517.70 112.70L518.70 111.70Z" fill="#a6d854" stroke="#000" stroke-width="0.9"/><text x="554.00" y="121.50" font-size="21.5">f<tspan font-size="11.5" dy="2.0" dx="-1.4">13</tspan></text><path d="M510.50 136.90H530.50" stroke="#ffd92f" stroke-width="1.9"/><path d="M520.50 136.90L520.50 133.70M520.50 136.90L523.28 138.50M520.50 136.90L517.72 138.50" fill="none" stroke="#000" stroke-width="1.3"/><text x="554.00" y="143.90" font-size="21.5">f<tspan font-size="11.5" dy="2.0" dx="-1.4">14</tspan></text><path d="M510.50 159.30H530.50" stroke="#e5c494" stroke-width="1.9"/><path d="M517.30 159.30L523.70 159.30M518.24 157.04L522.76 161.56M520.50 156.10L520.50 162.50M522.76 157.04L518.24 161.56" fill="none" stroke="#000" stroke-width="0.8"/><text x="554.00" y="166.30" font-size="21.5">f<tspan font-size="11.5" dy="2.0" dx="-1.4">15</tspan></text>
</svg></body></html>
